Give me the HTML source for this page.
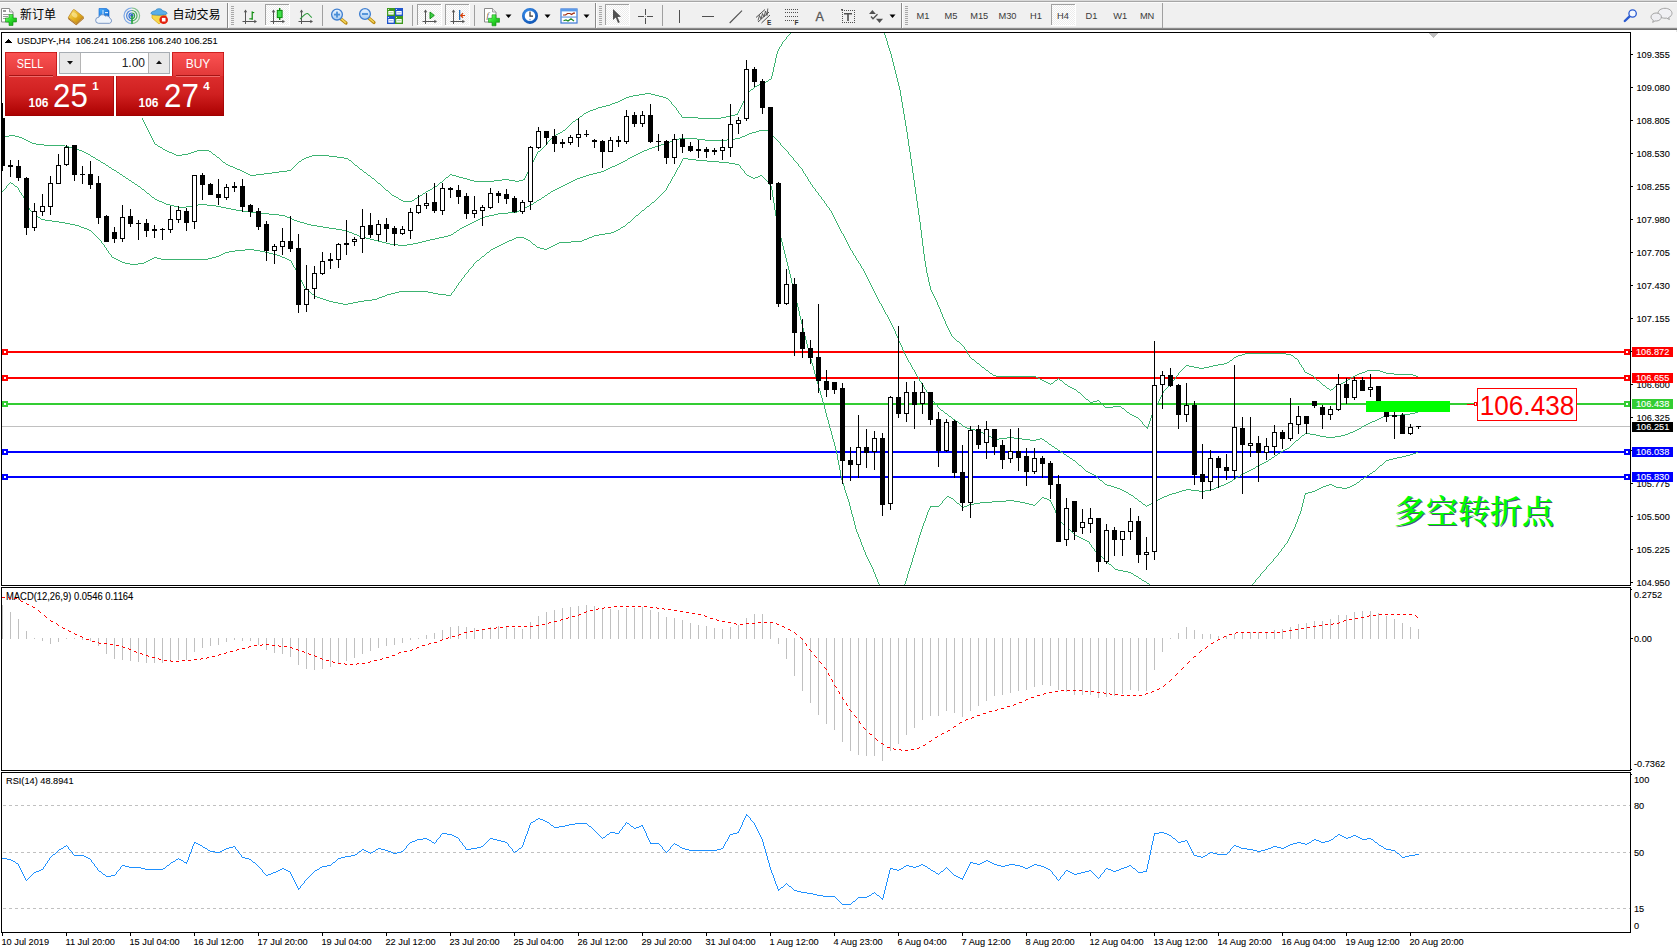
<!DOCTYPE html>
<html lang="zh"><head><meta charset="utf-8"><title>USDJPY H4</title>
<style>
html,body{margin:0;padding:0;background:#fff}
body{width:1677px;height:950px;overflow:hidden;position:relative;font-family:"Liberation Sans", "Noto Sans CJK SC", sans-serif;}
.abs{position:absolute}
</style></head><body>
<svg width="1677" height="950" viewBox="0 0 1677 950" shape-rendering="crispEdges" font-family='"Liberation Sans", "Noto Sans CJK SC", sans-serif' style="position:absolute;left:0;top:0"><rect x="1" y="32" width="1630" height="1" fill="#000"/>
<rect x="1" y="32" width="1" height="901" fill="#000"/>
<rect x="1630" y="32" width="1" height="901" fill="#000"/>
<rect x="1" y="585" width="1630" height="1" fill="#000"/>
<rect x="1" y="587" width="1630" height="1" fill="#000"/>
<rect x="1" y="770" width="1630" height="1" fill="#000"/>
<rect x="1" y="772" width="1630" height="1" fill="#000"/>
<rect x="1" y="932" width="1630" height="1" fill="#000"/>
<rect x="0" y="586" width="1631" height="1" fill="#fff"/>
<rect x="0" y="771" width="1631" height="1" fill="#fff"/>
<defs><clipPath id="cm"><rect x="2" y="33" width="1628" height="552"/></clipPath></defs>
<g clip-path="url(#cm)">
<rect x="2" y="426" width="1628" height="1" fill="#c0c0c0"/>
<rect x="2" y="351" width="1628" height="2" fill="#ff0000"/>
<rect x="2" y="377" width="1628" height="2" fill="#ff0000"/>
<rect x="2" y="403" width="1628" height="2" fill="#32cd32"/>
<rect x="2" y="451" width="1628" height="2" fill="#0000ff"/>
<rect x="2" y="476" width="1628" height="2" fill="#0000ff"/>
<path fill="#3cb371" d="M790 33h1v1h-1zM789 34h1v1h-1zM788 35h1v1h-1zM787 36h1v1h-1zM786 37h1v2h-1zM785 39h1v1h-1zM784 40h1v1h-1zM783 41h1v1h-1zM782 42h1v2h-1zM781 44h1v2h-1zM780 46h1v1h-1zM779 47h1v2h-1zM778 49h1v2h-1zM777 51h1v3h-1zM776 54h1v4h-1zM775 58h1v5h-1zM774 63h1v4h-1zM773 67h1v5h-1zM772 72h1v4h-1zM771 76h1v3h-1zM769 79h2v1h-2zM768 80h1v1h-1zM766 81h2v1h-2zM764 82h2v1h-2zM762 83h2v1h-2zM759 84h3v1h-3zM757 85h2v1h-2zM755 86h2v1h-2zM754 87h1v1h-1zM753 88h1v1h-1zM751 89h2v1h-2zM750 90h1v1h-1zM749 91h1v1h-1zM748 92h1v1h-1zM645 93h6v1h-6zM747 93h1v2h-1zM639 94h6v1h-6zM651 94h4v1h-4zM633 95h6v1h-6zM655 95h4v1h-4zM746 95h1v2h-1zM629 96h4v1h-4zM659 96h4v1h-4zM626 97h3v1h-3zM663 97h3v1h-3zM745 97h1v2h-1zM624 98h2v1h-2zM666 98h2v1h-2zM622 99h2v1h-2zM668 99h1v1h-1zM744 99h1v2h-1zM620 100h2v1h-2zM669 100h1v1h-1zM618 101h2v1h-2zM670 101h1v1h-1zM743 101h1v2h-1zM615 102h3v1h-3zM671 102h1v2h-1zM612 103h3v1h-3zM742 103h1v2h-1zM610 104h2v1h-2zM672 104h1v1h-1zM606 105h4v1h-4zM673 105h1v1h-1zM741 105h1v2h-1zM602 106h4v1h-4zM674 106h1v1h-1zM598 107h4v1h-4zM675 107h1v1h-1zM740 107h1v2h-1zM596 108h2v1h-2zM676 108h1v2h-1zM593 109h3v1h-3zM739 109h1v2h-1zM590 110h3v1h-3zM677 110h1v1h-1zM588 111h2v1h-2zM678 111h1v2h-1zM738 111h1v2h-1zM586 112h2v1h-2zM584 113h2v1h-2zM679 113h1v1h-1zM737 113h1v2h-1zM583 114h1v1h-1zM680 114h1v1h-1zM735 114h2v1h-2zM582 115h1v1h-1zM681 115h1v2h-1zM731 115h4v1h-4zM580 116h2v1h-2zM726 116h5v1h-5zM579 117h1v1h-1zM682 117h16v1h-16zM721 117h5v1h-5zM142 118h1v2h-1zM578 118h1v1h-1zM698 118h23v1h-23zM576 119h2v1h-2zM143 120h1v2h-1zM575 120h1v1h-1zM573 121h2v1h-2zM144 122h1v2h-1zM572 122h1v1h-1zM571 123h1v1h-1zM145 124h1v2h-1zM570 124h1v1h-1zM569 125h1v1h-1zM146 126h1v2h-1zM568 126h1v1h-1zM567 127h1v1h-1zM147 128h1v2h-1zM566 128h1v1h-1zM565 129h1v1h-1zM148 130h1v2h-1zM563 130h2v1h-2zM562 131h1v1h-1zM149 132h1v2h-1zM560 132h2v1h-2zM558 133h2v1h-2zM150 134h1v2h-1zM556 134h2v1h-2zM554 135h2v1h-2zM151 136h1v2h-1zM553 136h1v1h-1zM552 137h1v1h-1zM152 138h1v2h-1zM551 138h1v1h-1zM550 139h1v1h-1zM153 140h1v2h-1zM549 140h1v1h-1zM548 141h1v1h-1zM154 142h1v2h-1zM547 142h1v2h-1zM155 144h2v1h-2zM546 144h1v1h-1zM157 145h1v1h-1zM545 145h1v1h-1zM158 146h2v1h-2zM544 146h1v1h-1zM160 147h2v1h-2zM543 147h1v1h-1zM162 148h1v1h-1zM542 148h1v1h-1zM163 149h2v1h-2zM541 149h1v1h-1zM165 150h2v1h-2zM197 150h12v1h-12zM540 150h1v1h-1zM167 151h2v1h-2zM194 151h3v1h-3zM209 151h2v1h-2zM538 151h2v1h-2zM169 152h3v1h-3zM191 152h3v1h-3zM211 152h1v1h-1zM537 152h1v2h-1zM172 153h2v1h-2zM188 153h3v1h-3zM212 153h1v1h-1zM174 154h2v1h-2zM182 154h6v1h-6zM213 154h2v1h-2zM536 154h1v2h-1zM176 155h6v1h-6zM215 155h1v1h-1zM312 155h17v1h-17zM216 156h1v1h-1zM309 156h3v1h-3zM329 156h8v1h-8zM535 156h1v2h-1zM217 157h2v1h-2zM306 157h3v1h-3zM337 157h7v1h-7zM219 158h1v1h-1zM304 158h2v1h-2zM344 158h4v1h-4zM534 158h1v2h-1zM220 159h1v1h-1zM302 159h2v1h-2zM348 159h1v1h-1zM221 160h1v1h-1zM301 160h1v1h-1zM349 160h2v1h-2zM533 160h1v2h-1zM222 161h1v1h-1zM299 161h2v1h-2zM351 161h1v1h-1zM223 162h2v1h-2zM298 162h1v1h-1zM352 162h1v1h-1zM532 162h1v2h-1zM225 163h1v1h-1zM297 163h1v1h-1zM353 163h1v1h-1zM226 164h2v1h-2zM296 164h1v1h-1zM354 164h1v1h-1zM531 164h1v2h-1zM228 165h2v1h-2zM295 165h1v1h-1zM355 165h2v1h-2zM230 166h3v1h-3zM294 166h1v1h-1zM357 166h1v1h-1zM530 166h1v2h-1zM233 167h2v1h-2zM293 167h1v1h-1zM358 167h1v1h-1zM235 168h2v1h-2zM292 168h1v1h-1zM359 168h1v1h-1zM529 168h1v2h-1zM237 169h3v1h-3zM291 169h1v1h-1zM360 169h2v1h-2zM240 170h2v1h-2zM287 170h4v1h-4zM362 170h1v1h-1zM528 170h1v2h-1zM242 171h2v1h-2zM279 171h8v1h-8zM363 171h1v1h-1zM244 172h2v1h-2zM272 172h7v1h-7zM364 172h2v1h-2zM527 172h1v2h-1zM246 173h2v1h-2zM264 173h8v1h-8zM366 173h1v1h-1zM248 174h2v1h-2zM256 174h8v1h-8zM367 174h1v1h-1zM450 174h2v1h-2zM526 174h1v2h-1zM250 175h6v1h-6zM368 175h2v1h-2zM449 175h1v1h-1zM452 175h4v1h-4zM370 176h1v1h-1zM448 176h1v1h-1zM456 176h3v1h-3zM525 176h1v2h-1zM371 177h1v1h-1zM446 177h2v1h-2zM459 177h4v1h-4zM372 178h2v1h-2zM445 178h1v1h-1zM463 178h4v1h-4zM524 178h1v2h-1zM374 179h1v1h-1zM444 179h1v1h-1zM467 179h3v1h-3zM502 179h7v1h-7zM523 179h1v1h-1zM375 180h1v1h-1zM443 180h1v1h-1zM470 180h4v1h-4zM494 180h8v1h-8zM509 180h6v1h-6zM519 180h4v1h-4zM376 181h1v1h-1zM442 181h1v1h-1zM474 181h20v1h-20zM515 181h4v1h-4zM377 182h1v1h-1zM440 182h2v1h-2zM378 183h2v1h-2zM439 183h1v1h-1zM380 184h1v1h-1zM438 184h1v1h-1zM381 185h1v1h-1zM437 185h1v1h-1zM382 186h1v1h-1zM435 186h2v1h-2zM383 187h1v1h-1zM433 187h2v1h-2zM384 188h1v1h-1zM432 188h1v1h-1zM385 189h1v1h-1zM430 189h2v1h-2zM386 190h2v1h-2zM428 190h2v1h-2zM388 191h1v1h-1zM426 191h2v1h-2zM389 192h1v1h-1zM425 192h1v1h-1zM390 193h1v1h-1zM423 193h2v1h-2zM391 194h1v1h-1zM422 194h1v1h-1zM392 195h2v1h-2zM420 195h2v1h-2zM394 196h2v1h-2zM419 196h1v1h-1zM396 197h2v1h-2zM417 197h2v1h-2zM398 198h1v1h-1zM415 198h2v1h-2zM399 199h2v1h-2zM414 199h1v1h-1zM401 200h2v1h-2zM412 200h2v1h-2zM403 201h9v1h-9zM884 33h1v2h-1zM885 35h1v3h-1zM886 38h1v3h-1zM887 41h1v4h-1zM888 45h1v3h-1zM889 48h1v3h-1zM890 51h1v3h-1zM891 54h1v4h-1zM892 58h1v4h-1zM893 62h1v4h-1zM894 66h1v4h-1zM895 70h1v4h-1zM896 74h1v4h-1zM897 78h1v4h-1zM898 82h1v4h-1zM899 86h1v4h-1zM900 90h1v6h-1zM901 96h1v6h-1zM902 102h1v6h-1zM903 108h1v6h-1zM904 114h1v6h-1zM905 120h1v6h-1zM906 126h1v6h-1zM907 132h1v7h-1zM908 139h1v7h-1zM909 146h1v6h-1zM910 152h1v7h-1zM911 159h1v7h-1zM912 166h1v7h-1zM913 173h1v7h-1zM914 180h1v7h-1zM915 187h1v7h-1zM916 194h1v7h-1zM917 201h1v7h-1zM918 208h1v7h-1zM919 215h1v7h-1zM920 222h1v8h-1zM921 230h1v8h-1zM922 238h1v8h-1zM923 246h1v8h-1zM924 254h1v7h-1zM925 261h1v6h-1zM926 267h1v6h-1zM927 273h1v4h-1zM928 277h1v5h-1zM929 282h1v4h-1zM930 286h1v4h-1zM931 290h1v2h-1zM932 292h1v2h-1zM933 294h1v2h-1zM934 296h1v2h-1zM935 298h1v2h-1zM936 300h1v2h-1zM937 302h1v3h-1zM938 305h1v2h-1zM939 307h1v2h-1zM940 309h1v3h-1zM941 312h1v2h-1zM942 314h1v3h-1zM943 317h1v2h-1zM944 319h1v2h-1zM945 321h1v3h-1zM946 324h1v2h-1zM947 326h1v2h-1zM948 328h1v2h-1zM949 330h1v2h-1zM950 332h1v2h-1zM951 334h1v2h-1zM952 336h1v1h-1zM953 337h1v1h-1zM954 338h1v1h-1zM955 339h1v1h-1zM956 340h1v1h-1zM957 341h2v1h-2zM959 342h1v1h-1zM960 343h1v1h-1zM961 344h1v1h-1zM962 345h1v1h-1zM963 346h1v1h-1zM964 347h1v2h-1zM965 349h1v1h-1zM966 350h1v2h-1zM967 352h1v2h-1zM1245 353h41v1h-41zM968 354h1v1h-1zM1242 354h3v1h-3zM1286 354h5v1h-5zM969 355h1v2h-1zM1238 355h4v1h-4zM1291 355h2v1h-2zM1236 356h2v1h-2zM1293 356h1v1h-1zM970 357h1v1h-1zM1234 357h2v1h-2zM1294 357h1v1h-1zM971 358h1v1h-1zM1233 358h1v1h-1zM1295 358h2v1h-2zM972 359h2v1h-2zM1232 359h1v1h-1zM1297 359h1v1h-1zM974 360h1v1h-1zM1230 360h2v1h-2zM1298 360h1v2h-1zM975 361h1v1h-1zM1229 361h1v1h-1zM976 362h1v1h-1zM1227 362h2v1h-2zM1299 362h1v2h-1zM977 363h2v1h-2zM1224 363h3v1h-3zM979 364h1v1h-1zM1218 364h6v1h-6zM1300 364h1v1h-1zM980 365h1v1h-1zM1186 365h3v1h-3zM1213 365h5v1h-5zM1301 365h1v2h-1zM981 366h1v1h-1zM1185 366h1v1h-1zM1189 366h5v1h-5zM1209 366h4v1h-4zM982 367h2v1h-2zM1184 367h1v1h-1zM1194 367h5v1h-5zM1204 367h5v1h-5zM1302 367h1v1h-1zM984 368h1v1h-1zM1183 368h1v1h-1zM1199 368h5v1h-5zM1303 368h1v2h-1zM985 369h1v1h-1zM1182 369h1v1h-1zM986 370h2v1h-2zM1181 370h1v1h-1zM1304 370h1v2h-1zM1367 370h13v1h-13zM988 371h1v1h-1zM1180 371h1v1h-1zM1365 371h2v1h-2zM1380 371h3v1h-3zM989 372h1v1h-1zM1179 372h1v1h-1zM1305 372h2v1h-2zM1362 372h3v1h-3zM1383 372h3v1h-3zM990 373h2v1h-2zM1178 373h1v2h-1zM1307 373h2v1h-2zM1359 373h3v1h-3zM1386 373h8v1h-8zM992 374h1v1h-1zM1309 374h2v1h-2zM1357 374h2v1h-2zM1394 374h19v1h-19zM993 375h3v1h-3zM1177 375h1v1h-1zM1311 375h2v1h-2zM1355 375h2v1h-2zM1413 375h3v1h-3zM996 376h40v1h-40zM1176 376h1v1h-1zM1313 376h1v1h-1zM1353 376h2v1h-2zM1416 376h2v1h-2zM1036 377h2v1h-2zM1175 377h1v2h-1zM1314 377h1v1h-1zM1351 377h2v1h-2zM1038 378h2v1h-2zM1058 378h1v1h-1zM1315 378h1v1h-1zM1350 378h1v1h-1zM1040 379h2v1h-2zM1057 379h1v1h-1zM1059 379h1v1h-1zM1174 379h1v1h-1zM1316 379h1v1h-1zM1348 379h2v1h-2zM1042 380h2v1h-2zM1055 380h2v1h-2zM1060 380h2v1h-2zM1173 380h1v1h-1zM1317 380h2v1h-2zM1346 380h2v1h-2zM1044 381h2v1h-2zM1054 381h1v1h-1zM1062 381h1v1h-1zM1172 381h1v1h-1zM1319 381h1v1h-1zM1345 381h1v1h-1zM1046 382h2v1h-2zM1053 382h1v1h-1zM1063 382h1v1h-1zM1171 382h1v1h-1zM1320 382h1v1h-1zM1343 382h2v1h-2zM1048 383h2v1h-2zM1051 383h2v1h-2zM1064 383h1v1h-1zM1170 383h1v1h-1zM1321 383h1v1h-1zM1341 383h2v1h-2zM1050 384h1v1h-1zM1065 384h2v1h-2zM1169 384h1v1h-1zM1322 384h1v1h-1zM1339 384h2v1h-2zM1067 385h1v1h-1zM1168 385h1v2h-1zM1323 385h2v1h-2zM1337 385h2v1h-2zM1068 386h2v1h-2zM1325 386h1v1h-1zM1335 386h2v1h-2zM1070 387h2v1h-2zM1167 387h1v1h-1zM1326 387h1v1h-1zM1334 387h1v1h-1zM1072 388h2v1h-2zM1166 388h1v1h-1zM1327 388h2v1h-2zM1333 388h1v1h-1zM1074 389h2v1h-2zM1165 389h1v1h-1zM1329 389h1v1h-1zM1331 389h2v1h-2zM1076 390h1v1h-1zM1164 390h1v1h-1zM1330 390h1v1h-1zM1077 391h1v1h-1zM1163 391h1v2h-1zM1078 392h2v1h-2zM1080 393h1v1h-1zM1162 393h1v2h-1zM1081 394h1v1h-1zM1082 395h1v1h-1zM1161 395h1v2h-1zM1083 396h1v1h-1zM1084 397h1v1h-1zM1160 397h1v2h-1zM1085 398h1v1h-1zM1086 399h2v1h-2zM1159 399h1v2h-1zM1088 400h1v1h-1zM1097 400h2v1h-2zM1089 401h1v1h-1zM1093 401h4v1h-4zM1099 401h1v1h-1zM1158 401h1v2h-1zM1090 402h3v1h-3zM1100 402h1v1h-1zM1101 403h1v1h-1zM1157 403h1v2h-1zM1102 404h1v1h-1zM1103 405h1v1h-1zM1156 405h1v2h-1zM1104 406h1v1h-1zM1113 406h8v1h-8zM1105 407h8v1h-8zM1121 407h1v1h-1zM1155 407h1v2h-1zM1122 408h2v1h-2zM1124 409h1v1h-1zM1154 409h1v2h-1zM1125 410h1v1h-1zM1126 411h1v1h-1zM1153 411h1v2h-1zM1127 412h2v1h-2zM1129 413h1v1h-1zM1152 413h1v2h-1zM1130 414h2v1h-2zM1132 415h2v1h-2zM1151 415h1v3h-1zM1134 416h2v1h-2zM1136 417h2v1h-2zM1138 418h1v1h-1zM1150 418h1v3h-1zM1139 419h1v1h-1zM1140 420h1v1h-1zM1141 421h1v1h-1zM1149 421h1v3h-1zM1142 422h1v2h-1zM1143 424h1v1h-1zM1148 424h1v3h-1zM1144 425h1v1h-1zM1145 426h1v1h-1zM1146 427h2v1h-2zM1147 428h1v1h-1zM759 130h10v1h-10zM756 131h3v1h-3zM769 131h1v1h-1zM752 132h4v1h-4zM770 132h1v1h-1zM749 133h3v1h-3zM771 133h1v2h-1zM747 134h2v1h-2zM9 135h6v1h-6zM745 135h2v1h-2zM772 135h1v1h-1zM5 136h4v1h-4zM15 136h4v1h-4zM742 136h3v1h-3zM773 136h1v1h-1zM19 137h3v1h-3zM740 137h2v1h-2zM774 137h1v1h-1zM22 138h2v1h-2zM679 138h18v1h-18zM735 138h5v1h-5zM775 138h1v1h-1zM24 139h2v1h-2zM676 139h3v1h-3zM697 139h8v1h-8zM727 139h8v1h-8zM776 139h1v1h-1zM26 140h2v1h-2zM673 140h3v1h-3zM705 140h22v1h-22zM777 140h1v1h-1zM28 141h2v1h-2zM670 141h3v1h-3zM778 141h1v1h-1zM30 142h2v1h-2zM667 142h3v1h-3zM779 142h1v1h-1zM32 143h4v1h-4zM664 143h3v1h-3zM780 143h1v2h-1zM36 144h8v1h-8zM661 144h3v1h-3zM44 145h21v1h-21zM658 145h3v1h-3zM781 145h1v1h-1zM65 146h4v1h-4zM655 146h3v1h-3zM782 146h1v1h-1zM69 147h3v1h-3zM652 147h3v1h-3zM783 147h1v1h-1zM72 148h3v1h-3zM649 148h3v1h-3zM784 148h1v1h-1zM75 149h4v1h-4zM647 149h2v1h-2zM785 149h1v1h-1zM79 150h3v1h-3zM644 150h3v1h-3zM786 150h1v1h-1zM82 151h2v1h-2zM642 151h2v1h-2zM787 151h1v1h-1zM84 152h2v1h-2zM640 152h2v1h-2zM788 152h1v2h-1zM86 153h2v1h-2zM638 153h2v1h-2zM88 154h2v1h-2zM636 154h2v1h-2zM789 154h1v1h-1zM90 155h1v1h-1zM634 155h2v1h-2zM790 155h1v1h-1zM91 156h2v1h-2zM632 156h2v1h-2zM791 156h1v1h-1zM93 157h2v1h-2zM630 157h2v1h-2zM792 157h1v1h-1zM95 158h1v1h-1zM628 158h2v1h-2zM793 158h1v2h-1zM96 159h2v1h-2zM627 159h1v1h-1zM98 160h2v1h-2zM625 160h2v1h-2zM794 160h1v1h-1zM100 161h1v1h-1zM623 161h2v1h-2zM795 161h1v1h-1zM101 162h2v1h-2zM621 162h2v1h-2zM796 162h1v1h-1zM103 163h2v1h-2zM619 163h2v1h-2zM797 163h1v1h-1zM105 164h1v1h-1zM617 164h2v1h-2zM798 164h1v2h-1zM106 165h2v1h-2zM615 165h2v1h-2zM108 166h1v1h-1zM612 166h3v1h-3zM799 166h1v1h-1zM109 167h2v1h-2zM610 167h2v1h-2zM800 167h1v1h-1zM111 168h1v1h-1zM608 168h2v1h-2zM801 168h1v1h-1zM112 169h2v1h-2zM606 169h2v1h-2zM802 169h1v2h-1zM114 170h2v1h-2zM604 170h2v1h-2zM116 171h1v1h-1zM601 171h3v1h-3zM803 171h1v2h-1zM117 172h2v1h-2zM597 172h4v1h-4zM119 173h1v1h-1zM593 173h4v1h-4zM804 173h1v1h-1zM120 174h2v1h-2zM589 174h4v1h-4zM805 174h1v2h-1zM122 175h1v1h-1zM586 175h3v1h-3zM123 176h2v1h-2zM583 176h3v1h-3zM806 176h1v1h-1zM125 177h1v1h-1zM580 177h3v1h-3zM807 177h1v2h-1zM126 178h2v1h-2zM577 178h3v1h-3zM128 179h1v1h-1zM575 179h2v1h-2zM808 179h1v2h-1zM129 180h2v1h-2zM573 180h2v1h-2zM131 181h1v1h-1zM571 181h2v1h-2zM809 181h1v1h-1zM132 182h2v1h-2zM569 182h2v1h-2zM810 182h1v2h-1zM134 183h1v1h-1zM567 183h2v1h-2zM135 184h2v1h-2zM565 184h2v1h-2zM811 184h1v1h-1zM137 185h1v1h-1zM563 185h2v1h-2zM812 185h1v2h-1zM138 186h2v1h-2zM561 186h2v1h-2zM140 187h1v1h-1zM559 187h2v1h-2zM813 187h1v1h-1zM141 188h1v1h-1zM557 188h2v1h-2zM814 188h1v1h-1zM142 189h2v1h-2zM555 189h2v1h-2zM815 189h1v2h-1zM144 190h1v1h-1zM553 190h2v1h-2zM145 191h1v1h-1zM551 191h2v1h-2zM816 191h1v1h-1zM146 192h1v1h-1zM550 192h1v1h-1zM817 192h1v1h-1zM147 193h2v1h-2zM548 193h2v1h-2zM818 193h1v2h-1zM149 194h1v1h-1zM547 194h1v1h-1zM150 195h1v1h-1zM545 195h2v1h-2zM819 195h1v1h-1zM151 196h1v1h-1zM544 196h1v1h-1zM820 196h1v1h-1zM152 197h2v1h-2zM542 197h2v1h-2zM821 197h1v2h-1zM154 198h1v1h-1zM541 198h1v1h-1zM155 199h2v1h-2zM539 199h2v1h-2zM822 199h1v1h-1zM157 200h2v1h-2zM537 200h2v1h-2zM823 200h1v1h-1zM159 201h3v1h-3zM536 201h1v1h-1zM824 201h1v2h-1zM162 202h2v1h-2zM534 202h2v1h-2zM164 203h2v1h-2zM533 203h1v1h-1zM825 203h1v1h-1zM166 204h4v1h-4zM198 204h9v1h-9zM531 204h2v1h-2zM826 204h1v2h-1zM170 205h4v1h-4zM193 205h5v1h-5zM207 205h9v1h-9zM529 205h2v1h-2zM174 206h4v1h-4zM186 206h7v1h-7zM216 206h5v1h-5zM527 206h2v1h-2zM827 206h1v1h-1zM178 207h8v1h-8zM221 207h5v1h-5zM525 207h2v1h-2zM828 207h1v1h-1zM226 208h5v1h-5zM523 208h2v1h-2zM829 208h1v2h-1zM231 209h5v1h-5zM521 209h2v1h-2zM236 210h7v1h-7zM519 210h2v1h-2zM830 210h1v1h-1zM243 211h8v1h-8zM517 211h2v1h-2zM831 211h1v2h-1zM251 212h8v1h-8zM508 212h9v1h-9zM259 213h10v1h-10zM498 213h10v1h-10zM832 213h1v2h-1zM269 214h10v1h-10zM494 214h4v1h-4zM279 215h6v1h-6zM489 215h5v1h-5zM833 215h1v2h-1zM285 216h2v1h-2zM485 216h4v1h-4zM287 217h3v1h-3zM482 217h3v1h-3zM834 217h1v2h-1zM290 218h2v1h-2zM480 218h2v1h-2zM292 219h2v1h-2zM478 219h2v1h-2zM835 219h1v2h-1zM294 220h3v1h-3zM476 220h2v1h-2zM297 221h3v1h-3zM474 221h2v1h-2zM836 221h1v2h-1zM300 222h4v1h-4zM472 222h2v1h-2zM304 223h3v1h-3zM470 223h2v1h-2zM837 223h1v2h-1zM307 224h4v1h-4zM468 224h2v1h-2zM311 225h6v1h-6zM466 225h2v1h-2zM838 225h1v2h-1zM317 226h6v1h-6zM464 226h2v1h-2zM323 227h6v1h-6zM462 227h2v1h-2zM839 227h1v2h-1zM329 228h7v1h-7zM460 228h2v1h-2zM336 229h6v1h-6zM459 229h1v1h-1zM840 229h1v2h-1zM342 230h5v1h-5zM457 230h2v1h-2zM347 231h2v1h-2zM456 231h1v1h-1zM841 231h1v2h-1zM349 232h3v1h-3zM454 232h2v1h-2zM352 233h2v1h-2zM453 233h1v1h-1zM842 233h1v1h-1zM354 234h3v1h-3zM451 234h2v1h-2zM843 234h1v2h-1zM357 235h2v1h-2zM448 235h3v1h-3zM359 236h3v1h-3zM444 236h4v1h-4zM844 236h1v2h-1zM362 237h4v1h-4zM439 237h5v1h-5zM366 238h4v1h-4zM435 238h4v1h-4zM845 238h1v2h-1zM370 239h4v1h-4zM430 239h5v1h-5zM374 240h4v1h-4zM426 240h4v1h-4zM846 240h1v2h-1zM378 241h4v1h-4zM422 241h4v1h-4zM382 242h4v1h-4zM418 242h4v1h-4zM847 242h1v2h-1zM386 243h4v1h-4zM413 243h5v1h-5zM390 244h8v1h-8zM407 244h6v1h-6zM848 244h1v2h-1zM398 245h9v1h-9zM849 246h1v2h-1zM850 248h1v2h-1zM851 250h1v1h-1zM852 251h1v2h-1zM853 253h1v2h-1zM854 255h1v1h-1zM855 256h1v2h-1zM856 258h1v2h-1zM857 260h1v1h-1zM858 261h1v2h-1zM859 263h1v1h-1zM860 264h1v2h-1zM861 266h1v2h-1zM862 268h1v1h-1zM863 269h1v2h-1zM864 271h1v2h-1zM865 273h1v2h-1zM866 275h1v2h-1zM867 277h1v2h-1zM868 279h1v2h-1zM869 281h1v2h-1zM870 283h1v2h-1zM871 285h1v2h-1zM872 287h1v2h-1zM873 289h1v2h-1zM874 291h1v2h-1zM875 293h1v2h-1zM876 295h1v2h-1zM877 297h1v2h-1zM878 299h1v2h-1zM879 301h1v2h-1zM880 303h1v1h-1zM881 304h1v2h-1zM882 306h1v2h-1zM883 308h1v2h-1zM884 310h1v2h-1zM885 312h1v2h-1zM886 314h1v1h-1zM887 315h1v2h-1zM888 317h1v2h-1zM889 319h1v2h-1zM890 321h1v2h-1zM891 323h1v2h-1zM892 325h1v2h-1zM893 327h1v2h-1zM894 329h1v2h-1zM895 331h1v3h-1zM896 334h1v2h-1zM897 336h1v2h-1zM898 338h1v3h-1zM899 341h1v2h-1zM900 343h1v2h-1zM901 345h1v2h-1zM902 347h1v3h-1zM903 350h1v2h-1zM904 352h1v2h-1zM905 354h1v2h-1zM906 356h1v2h-1zM907 358h1v2h-1zM908 360h1v2h-1zM909 362h1v1h-1zM910 363h1v2h-1zM911 365h1v2h-1zM912 367h1v2h-1zM913 369h1v1h-1zM914 370h1v2h-1zM915 372h1v2h-1zM916 374h1v2h-1zM917 376h1v1h-1zM918 377h1v2h-1zM919 379h1v2h-1zM920 381h1v1h-1zM921 382h1v2h-1zM922 384h1v1h-1zM923 385h1v2h-1zM924 387h1v2h-1zM925 389h1v1h-1zM926 390h1v2h-1zM927 392h1v1h-1zM928 393h1v2h-1zM929 395h1v2h-1zM930 397h1v1h-1zM931 398h1v1h-1zM932 399h1v2h-1zM933 401h1v1h-1zM934 402h1v1h-1zM935 403h1v1h-1zM936 404h1v1h-1zM937 405h1v2h-1zM938 407h1v1h-1zM939 408h1v1h-1zM940 409h1v1h-1zM941 410h2v1h-2zM943 411h1v1h-1zM944 412h1v1h-1zM1415 412h3v1h-3zM945 413h2v1h-2zM1410 413h5v1h-5zM947 414h1v1h-1zM1401 414h9v1h-9zM948 415h1v1h-1zM1389 415h12v1h-12zM949 416h2v1h-2zM1383 416h6v1h-6zM951 417h1v1h-1zM1381 417h2v1h-2zM952 418h1v1h-1zM1379 418h2v1h-2zM953 419h2v1h-2zM1377 419h2v1h-2zM955 420h1v1h-1zM1375 420h2v1h-2zM956 421h2v1h-2zM1372 421h3v1h-3zM958 422h1v1h-1zM1370 422h2v1h-2zM959 423h2v1h-2zM1368 423h2v1h-2zM961 424h1v1h-1zM1366 424h2v1h-2zM962 425h1v1h-1zM1364 425h2v1h-2zM963 426h2v1h-2zM1362 426h2v1h-2zM965 427h2v1h-2zM1361 427h1v1h-1zM967 428h4v1h-4zM1359 428h2v1h-2zM971 429h4v1h-4zM1357 429h2v1h-2zM975 430h4v1h-4zM1355 430h2v1h-2zM979 431h2v1h-2zM1353 431h2v1h-2zM981 432h2v1h-2zM1350 432h3v1h-3zM983 433h2v1h-2zM1305 433h5v1h-5zM1348 433h2v1h-2zM985 434h2v1h-2zM1304 434h1v1h-1zM1310 434h6v1h-6zM1345 434h3v1h-3zM987 435h2v1h-2zM1302 435h2v1h-2zM1316 435h4v1h-4zM1341 435h4v1h-4zM989 436h2v1h-2zM1301 436h1v1h-1zM1320 436h6v1h-6zM1335 436h6v1h-6zM991 437h2v1h-2zM1007 437h7v1h-7zM1300 437h1v1h-1zM1326 437h9v1h-9zM993 438h2v1h-2zM999 438h8v1h-8zM1014 438h8v1h-8zM1040 438h2v1h-2zM1299 438h1v1h-1zM995 439h4v1h-4zM1022 439h8v1h-8zM1036 439h4v1h-4zM1042 439h2v1h-2zM1298 439h1v1h-1zM1030 440h6v1h-6zM1044 440h1v1h-1zM1296 440h2v1h-2zM1045 441h2v1h-2zM1295 441h1v1h-1zM1047 442h1v1h-1zM1294 442h1v1h-1zM1048 443h1v1h-1zM1293 443h1v1h-1zM1049 444h2v1h-2zM1292 444h1v1h-1zM1051 445h1v1h-1zM1291 445h1v1h-1zM1052 446h2v1h-2zM1290 446h1v1h-1zM1054 447h1v1h-1zM1289 447h1v1h-1zM1055 448h2v1h-2zM1287 448h2v1h-2zM1057 449h1v1h-1zM1285 449h2v1h-2zM1058 450h2v1h-2zM1283 450h2v1h-2zM1060 451h1v1h-1zM1281 451h2v1h-2zM1061 452h2v1h-2zM1280 452h1v1h-1zM1063 453h1v1h-1zM1278 453h2v1h-2zM1064 454h2v1h-2zM1277 454h1v1h-1zM1066 455h1v1h-1zM1275 455h2v1h-2zM1067 456h2v1h-2zM1274 456h1v1h-1zM1069 457h1v1h-1zM1272 457h2v1h-2zM1070 458h2v1h-2zM1271 458h1v1h-1zM1072 459h1v1h-1zM1269 459h2v1h-2zM1073 460h2v1h-2zM1268 460h1v1h-1zM1075 461h1v1h-1zM1266 461h2v1h-2zM1076 462h1v1h-1zM1264 462h2v1h-2zM1077 463h1v1h-1zM1262 463h2v1h-2zM1078 464h1v1h-1zM1260 464h2v1h-2zM1079 465h2v1h-2zM1258 465h2v1h-2zM1081 466h1v1h-1zM1256 466h2v1h-2zM1082 467h1v1h-1zM1255 467h1v1h-1zM1083 468h1v1h-1zM1253 468h2v1h-2zM1084 469h1v1h-1zM1251 469h2v1h-2zM1085 470h1v1h-1zM1249 470h2v1h-2zM1086 471h2v1h-2zM1247 471h2v1h-2zM1088 472h2v1h-2zM1245 472h2v1h-2zM1090 473h2v1h-2zM1243 473h2v1h-2zM1092 474h2v1h-2zM1241 474h2v1h-2zM1094 475h2v1h-2zM1240 475h1v1h-1zM1096 476h1v1h-1zM1238 476h2v1h-2zM1097 477h1v1h-1zM1236 477h2v1h-2zM1098 478h1v1h-1zM1235 478h1v1h-1zM1099 479h1v1h-1zM1233 479h2v1h-2zM1100 480h2v1h-2zM1232 480h1v1h-1zM1102 481h1v1h-1zM1230 481h2v1h-2zM1103 482h1v1h-1zM1228 482h2v1h-2zM1104 483h1v1h-1zM1226 483h2v1h-2zM1105 484h2v1h-2zM1224 484h2v1h-2zM1107 485h4v1h-4zM1221 485h3v1h-3zM1111 486h3v1h-3zM1219 486h2v1h-2zM1114 487h3v1h-3zM1216 487h3v1h-3zM1117 488h3v1h-3zM1214 488h2v1h-2zM1120 489h2v1h-2zM1186 489h5v1h-5zM1210 489h4v1h-4zM1122 490h2v1h-2zM1182 490h4v1h-4zM1191 490h8v1h-8zM1205 490h5v1h-5zM1124 491h2v1h-2zM1179 491h3v1h-3zM1199 491h6v1h-6zM1126 492h2v1h-2zM1176 492h3v1h-3zM1128 493h1v1h-1zM1172 493h4v1h-4zM1129 494h2v1h-2zM1169 494h3v1h-3zM1131 495h2v1h-2zM1167 495h2v1h-2zM1133 496h1v1h-1zM1164 496h3v1h-3zM1134 497h1v1h-1zM1162 497h2v1h-2zM1135 498h2v1h-2zM1160 498h2v1h-2zM1137 499h1v1h-1zM1158 499h2v1h-2zM1138 500h1v1h-1zM1156 500h2v1h-2zM1139 501h2v1h-2zM1154 501h2v1h-2zM1141 502h1v1h-1zM1152 502h2v1h-2zM1142 503h1v1h-1zM1151 503h1v1h-1zM1143 504h2v1h-2zM1149 504h2v1h-2zM1145 505h1v1h-1zM1147 505h2v1h-2zM1146 506h1v1h-1zM683 158h5v1h-5zM682 159h1v2h-1zM688 159h8v1h-8zM696 160h11v1h-11zM681 161h1v2h-1zM707 161h12v1h-12zM719 162h10v1h-10zM680 163h1v2h-1zM729 163h6v1h-6zM735 164h4v1h-4zM679 165h1v2h-1zM739 165h1v1h-1zM740 166h1v2h-1zM678 167h1v1h-1zM677 168h1v2h-1zM741 168h1v1h-1zM742 169h1v1h-1zM676 170h1v2h-1zM743 170h1v1h-1zM744 171h1v2h-1zM675 172h1v2h-1zM745 173h1v1h-1zM674 174h1v2h-1zM746 174h1v1h-1zM747 175h2v1h-2zM760 175h2v1h-2zM673 176h1v1h-1zM749 176h2v1h-2zM758 176h2v1h-2zM762 176h1v1h-1zM672 177h1v2h-1zM751 177h2v1h-2zM755 177h3v1h-3zM763 177h1v1h-1zM753 178h2v1h-2zM764 178h1v1h-1zM671 179h1v2h-1zM765 179h1v1h-1zM766 180h1v1h-1zM670 181h1v2h-1zM767 181h1v1h-1zM10 182h1v1h-1zM768 182h1v1h-1zM9 183h1v1h-1zM11 183h2v1h-2zM669 183h1v1h-1zM769 183h1v2h-1zM8 184h1v1h-1zM13 184h1v1h-1zM668 184h1v2h-1zM7 185h1v1h-1zM14 185h1v1h-1zM770 185h1v1h-1zM6 186h1v2h-1zM15 186h2v1h-2zM667 186h1v2h-1zM771 186h1v4h-1zM17 187h1v1h-1zM5 188h1v1h-1zM18 188h1v2h-1zM666 188h1v2h-1zM4 189h1v1h-1zM3 190h1v1h-1zM19 190h1v2h-1zM665 190h1v1h-1zM772 190h1v7h-1zM2 191h1v1h-1zM664 191h1v1h-1zM20 192h1v1h-1zM663 192h1v1h-1zM21 193h1v2h-1zM662 193h1v1h-1zM661 194h1v1h-1zM22 195h1v1h-1zM660 195h1v1h-1zM23 196h1v2h-1zM659 196h1v1h-1zM658 197h1v1h-1zM773 197h1v6h-1zM24 198h1v2h-1zM657 198h1v1h-1zM656 199h1v1h-1zM25 200h1v2h-1zM655 200h1v1h-1zM654 201h1v1h-1zM26 202h1v2h-1zM652 202h2v1h-2zM651 203h1v1h-1zM774 203h1v7h-1zM27 204h1v2h-1zM650 204h1v1h-1zM649 205h1v1h-1zM28 206h1v2h-1zM647 206h2v1h-2zM646 207h1v1h-1zM29 208h1v2h-1zM645 208h1v1h-1zM644 209h1v1h-1zM30 210h1v1h-1zM642 210h2v1h-2zM775 210h1v6h-1zM31 211h1v1h-1zM641 211h1v1h-1zM32 212h2v1h-2zM640 212h1v1h-1zM34 213h1v1h-1zM639 213h1v1h-1zM35 214h1v1h-1zM638 214h1v1h-1zM36 215h1v1h-1zM636 215h2v1h-2zM37 216h1v1h-1zM635 216h1v1h-1zM776 216h1v4h-1zM38 217h2v1h-2zM634 217h1v1h-1zM40 218h1v1h-1zM633 218h1v1h-1zM41 219h4v1h-4zM632 219h1v1h-1zM45 220h7v1h-7zM631 220h1v1h-1zM777 220h1v5h-1zM52 221h7v1h-7zM630 221h1v1h-1zM59 222h6v1h-6zM628 222h2v1h-2zM65 223h5v1h-5zM627 223h1v1h-1zM70 224h5v1h-5zM626 224h1v1h-1zM75 225h4v1h-4zM625 225h1v1h-1zM778 225h1v4h-1zM79 226h2v1h-2zM623 226h2v1h-2zM81 227h3v1h-3zM621 227h2v1h-2zM84 228h3v1h-3zM620 228h1v1h-1zM87 229h2v1h-2zM618 229h2v1h-2zM779 229h1v5h-1zM89 230h2v1h-2zM616 230h2v1h-2zM91 231h1v1h-1zM614 231h2v1h-2zM92 232h1v1h-1zM611 232h3v1h-3zM93 233h1v1h-1zM605 233h6v1h-6zM94 234h1v1h-1zM599 234h6v1h-6zM780 234h1v4h-1zM95 235h1v1h-1zM594 235h5v1h-5zM96 236h1v1h-1zM592 236h2v1h-2zM97 237h1v1h-1zM516 237h8v1h-8zM589 237h3v1h-3zM98 238h1v1h-1zM514 238h2v1h-2zM524 238h2v1h-2zM587 238h2v1h-2zM781 238h1v4h-1zM99 239h1v1h-1zM512 239h2v1h-2zM526 239h2v1h-2zM584 239h3v1h-3zM100 240h1v1h-1zM509 240h3v1h-3zM528 240h2v1h-2zM582 240h2v1h-2zM101 241h1v2h-1zM507 241h2v1h-2zM530 241h1v1h-1zM571 241h11v1h-11zM505 242h2v1h-2zM531 242h1v1h-1zM559 242h12v1h-12zM782 242h1v4h-1zM102 243h1v1h-1zM503 243h2v1h-2zM532 243h1v1h-1zM557 243h2v1h-2zM103 244h1v1h-1zM501 244h2v1h-2zM533 244h2v1h-2zM555 244h2v1h-2zM104 245h1v2h-1zM499 245h2v1h-2zM535 245h1v1h-1zM553 245h2v1h-2zM497 246h2v1h-2zM536 246h1v1h-1zM551 246h2v1h-2zM783 246h1v4h-1zM105 247h1v1h-1zM495 247h2v1h-2zM537 247h3v1h-3zM549 247h2v1h-2zM106 248h1v2h-1zM493 248h2v1h-2zM540 248h4v1h-4zM547 248h2v1h-2zM245 249h9v1h-9zM491 249h2v1h-2zM544 249h3v1h-3zM107 250h1v1h-1zM235 250h10v1h-10zM254 250h6v1h-6zM490 250h1v1h-1zM784 250h1v4h-1zM108 251h1v2h-1zM229 251h6v1h-6zM260 251h5v1h-5zM489 251h1v1h-1zM225 252h4v1h-4zM265 252h4v1h-4zM487 252h2v1h-2zM109 253h1v1h-1zM223 253h2v1h-2zM269 253h4v1h-4zM486 253h1v1h-1zM110 254h1v1h-1zM221 254h2v1h-2zM273 254h4v1h-4zM485 254h1v1h-1zM785 254h1v4h-1zM111 255h1v2h-1zM219 255h2v1h-2zM277 255h3v1h-3zM484 255h1v1h-1zM216 256h3v1h-3zM280 256h2v1h-2zM482 256h2v1h-2zM112 257h2v1h-2zM154 257h3v1h-3zM212 257h4v1h-4zM282 257h3v1h-3zM481 257h1v1h-1zM114 258h2v1h-2zM152 258h2v1h-2zM157 258h4v1h-4zM208 258h4v1h-4zM285 258h2v1h-2zM480 258h1v1h-1zM786 258h1v4h-1zM116 259h2v1h-2zM150 259h2v1h-2zM161 259h47v1h-47zM287 259h2v1h-2zM479 259h1v1h-1zM118 260h2v1h-2zM148 260h2v1h-2zM289 260h2v1h-2zM477 260h2v1h-2zM120 261h2v1h-2zM146 261h2v1h-2zM291 261h1v2h-1zM476 261h1v1h-1zM122 262h3v1h-3zM144 262h2v1h-2zM475 262h1v1h-1zM787 262h1v4h-1zM125 263h5v1h-5zM138 263h6v1h-6zM292 263h1v2h-1zM474 263h1v1h-1zM130 264h8v1h-8zM473 264h1v2h-1zM293 265h1v2h-1zM472 266h1v1h-1zM788 266h1v4h-1zM294 267h1v1h-1zM471 267h1v1h-1zM295 268h1v2h-1zM470 268h1v1h-1zM469 269h1v1h-1zM296 270h1v2h-1zM468 270h1v2h-1zM789 270h1v4h-1zM297 272h1v2h-1zM467 272h1v1h-1zM466 273h1v1h-1zM298 274h1v2h-1zM465 274h1v1h-1zM790 274h1v4h-1zM464 275h1v2h-1zM299 276h1v2h-1zM463 277h1v1h-1zM300 278h1v2h-1zM462 278h1v1h-1zM791 278h1v5h-1zM461 279h1v2h-1zM301 280h1v2h-1zM460 281h1v1h-1zM302 282h1v2h-1zM459 282h1v1h-1zM458 283h1v2h-1zM792 283h1v4h-1zM303 284h1v2h-1zM457 285h1v1h-1zM304 286h1v2h-1zM456 286h1v2h-1zM793 287h1v4h-1zM305 288h1v1h-1zM455 288h1v1h-1zM306 289h1v1h-1zM454 289h1v2h-1zM307 290h2v1h-2zM309 291h1v1h-1zM399 291h29v1h-29zM453 291h1v1h-1zM794 291h1v4h-1zM310 292h1v1h-1zM395 292h4v1h-4zM428 292h5v1h-5zM452 292h1v1h-1zM311 293h1v1h-1zM391 293h4v1h-4zM433 293h5v1h-5zM451 293h1v2h-1zM312 294h2v1h-2zM387 294h4v1h-4zM438 294h8v1h-8zM314 295h1v1h-1zM385 295h2v1h-2zM446 295h5v1h-5zM795 295h1v4h-1zM315 296h2v1h-2zM382 296h3v1h-3zM317 297h3v1h-3zM379 297h3v1h-3zM320 298h3v1h-3zM377 298h2v1h-2zM323 299h3v1h-3zM372 299h5v1h-5zM796 299h1v4h-1zM326 300h3v1h-3zM364 300h8v1h-8zM329 301h4v1h-4zM358 301h6v1h-6zM333 302h5v1h-5zM353 302h5v1h-5zM338 303h5v1h-5zM348 303h5v1h-5zM797 303h1v4h-1zM343 304h5v1h-5zM798 307h1v4h-1zM799 311h1v5h-1zM800 316h1v4h-1zM801 320h1v4h-1zM802 324h1v4h-1zM803 328h1v4h-1zM804 332h1v4h-1zM805 336h1v4h-1zM806 340h1v4h-1zM807 344h1v4h-1zM808 348h1v4h-1zM809 352h1v3h-1zM810 355h1v4h-1zM811 359h1v4h-1zM812 363h1v3h-1zM813 366h1v4h-1zM814 370h1v4h-1zM815 374h1v3h-1zM816 377h1v4h-1zM817 381h1v3h-1zM818 384h1v4h-1zM819 388h1v3h-1zM820 391h1v4h-1zM821 395h1v3h-1zM822 398h1v4h-1zM823 402h1v3h-1zM824 405h1v4h-1zM825 409h1v4h-1zM826 413h1v4h-1zM827 417h1v3h-1zM828 420h1v4h-1zM829 424h1v4h-1zM830 428h1v3h-1zM831 431h1v4h-1zM832 435h1v4h-1zM833 439h1v3h-1zM834 442h1v4h-1zM835 446h1v4h-1zM836 450h1v4h-1zM837 454h1v6h-1zM838 460h1v5h-1zM839 465h1v5h-1zM840 470h1v6h-1zM841 476h1v4h-1zM842 480h1v3h-1zM843 483h1v3h-1zM844 486h1v4h-1zM845 490h1v3h-1zM846 493h1v3h-1zM847 496h1v3h-1zM848 499h1v3h-1zM849 502h1v4h-1zM850 506h1v4h-1zM851 510h1v4h-1zM852 514h1v3h-1zM853 517h1v4h-1zM854 521h1v4h-1zM855 525h1v4h-1zM856 529h1v3h-1zM857 532h1v2h-1zM858 534h1v3h-1zM859 537h1v2h-1zM860 539h1v3h-1zM861 542h1v3h-1zM862 545h1v2h-1zM863 547h1v3h-1zM864 550h1v2h-1zM865 552h1v3h-1zM866 555h1v2h-1zM867 557h1v2h-1zM868 559h1v2h-1zM869 561h1v2h-1zM870 563h1v2h-1zM871 565h1v2h-1zM872 567h1v2h-1zM873 569h1v3h-1zM874 572h1v2h-1zM875 574h1v3h-1zM876 577h1v2h-1zM877 579h1v3h-1zM878 582h1v2h-1zM879 584h1v1h-1zM947 496h2v1h-2zM946 497h1v1h-1zM949 497h2v1h-2zM1042 497h2v1h-2zM945 498h1v1h-1zM951 498h2v1h-2zM1041 498h1v1h-1zM1044 498h3v1h-3zM944 499h1v1h-1zM953 499h1v1h-1zM1040 499h1v1h-1zM1047 499h2v1h-2zM943 500h1v1h-1zM954 500h1v1h-1zM1006 500h8v1h-8zM1039 500h1v1h-1zM1049 500h2v1h-2zM942 501h1v2h-1zM955 501h1v1h-1zM992 501h14v1h-14zM1014 501h6v1h-6zM1038 501h1v1h-1zM1050 501h1v1h-1zM956 502h1v1h-1zM980 502h12v1h-12zM1020 502h5v1h-5zM1037 502h1v1h-1zM1051 502h1v2h-1zM941 503h1v1h-1zM957 503h2v1h-2zM974 503h6v1h-6zM1025 503h4v1h-4zM1036 503h1v1h-1zM940 504h1v1h-1zM959 504h1v1h-1zM969 504h5v1h-5zM1029 504h4v1h-4zM1035 504h1v1h-1zM1052 504h1v2h-1zM939 505h1v1h-1zM960 505h1v1h-1zM967 505h2v1h-2zM1033 505h2v1h-2zM930 506h9v1h-9zM961 506h1v1h-1zM964 506h3v1h-3zM1053 506h1v2h-1zM930 507h1v1h-1zM962 507h2v1h-2zM929 508h1v2h-1zM1054 508h1v2h-1zM928 510h1v2h-1zM1055 510h1v3h-1zM927 512h1v3h-1zM1056 513h1v2h-1zM926 515h1v3h-1zM1057 515h1v2h-1zM1058 517h1v2h-1zM925 518h1v3h-1zM1059 519h1v2h-1zM924 521h1v2h-1zM1060 521h1v1h-1zM1061 522h1v1h-1zM923 523h1v3h-1zM1062 523h1v1h-1zM1063 524h2v1h-2zM1065 525h1v1h-1zM922 526h1v3h-1zM1066 526h1v1h-1zM1067 527h1v1h-1zM1068 528h1v1h-1zM921 529h1v3h-1zM1069 529h1v1h-1zM1070 530h1v1h-1zM1071 531h1v1h-1zM920 532h1v3h-1zM1072 532h1v1h-1zM1073 533h1v1h-1zM1074 534h1v1h-1zM919 535h1v3h-1zM1075 535h2v1h-2zM1077 536h2v1h-2zM1079 537h2v1h-2zM918 538h1v4h-1zM1081 538h2v1h-2zM1083 539h2v1h-2zM1085 540h2v1h-2zM1087 541h2v1h-2zM917 542h1v3h-1zM1089 542h1v2h-1zM1090 544h1v1h-1zM916 545h1v3h-1zM1091 545h1v2h-1zM1092 547h1v1h-1zM915 548h1v4h-1zM1093 548h1v1h-1zM1094 549h1v2h-1zM1095 551h1v1h-1zM914 552h1v3h-1zM1096 552h1v1h-1zM1097 553h1v1h-1zM1098 554h1v1h-1zM913 555h1v3h-1zM1099 555h2v1h-2zM1101 556h1v1h-1zM1102 557h1v1h-1zM912 558h1v4h-1zM1103 558h1v1h-1zM1104 559h1v1h-1zM1105 560h1v1h-1zM1106 561h1v1h-1zM911 562h1v3h-1zM1107 562h1v1h-1zM1108 563h1v1h-1zM1109 564h2v1h-2zM910 565h1v3h-1zM1111 565h1v1h-1zM1112 566h1v1h-1zM1113 567h1v1h-1zM909 568h1v3h-1zM1114 568h1v1h-1zM1115 569h3v1h-3zM1118 570h5v1h-5zM908 571h1v3h-1zM1123 571h5v1h-5zM1128 572h3v1h-3zM1131 573h2v1h-2zM907 574h1v4h-1zM1133 574h1v1h-1zM1134 575h2v1h-2zM1136 576h2v1h-2zM1138 577h1v1h-1zM906 578h1v3h-1zM1139 578h2v1h-2zM1141 579h1v1h-1zM1142 580h2v1h-2zM905 581h1v3h-1zM1144 581h2v1h-2zM1146 582h1v1h-1zM1147 583h2v1h-2zM904 584h1v1h-1zM1149 584h1v1h-1zM1416 452h2v1h-2zM1413 453h3v1h-3zM1410 454h3v1h-3zM1406 455h4v1h-4zM1402 456h4v1h-4zM1397 457h5v1h-5zM1393 458h4v1h-4zM1389 459h4v1h-4zM1386 460h3v1h-3zM1385 461h1v1h-1zM1384 462h1v1h-1zM1383 463h1v1h-1zM1382 464h1v1h-1zM1380 465h2v1h-2zM1379 466h1v1h-1zM1378 467h1v1h-1zM1377 468h1v1h-1zM1376 469h1v1h-1zM1375 470h1v1h-1zM1373 471h2v1h-2zM1372 472h1v1h-1zM1370 473h2v1h-2zM1369 474h1v1h-1zM1367 475h2v1h-2zM1366 476h1v1h-1zM1364 477h2v1h-2zM1363 478h1v1h-1zM1361 479h2v1h-2zM1360 480h1v1h-1zM1359 481h1v1h-1zM1357 482h2v1h-2zM1356 483h1v1h-1zM1329 484h3v1h-3zM1354 484h2v1h-2zM1326 485h3v1h-3zM1332 485h2v1h-2zM1352 485h2v1h-2zM1323 486h3v1h-3zM1334 486h2v1h-2zM1350 486h2v1h-2zM1321 487h2v1h-2zM1336 487h6v1h-6zM1347 487h3v1h-3zM1319 488h2v1h-2zM1342 488h5v1h-5zM1317 489h2v1h-2zM1315 490h2v1h-2zM1312 491h3v1h-3zM1308 492h4v1h-4zM1305 493h3v1h-3zM1305 494h1v1h-1zM1304 495h1v4h-1zM1303 499h1v4h-1zM1302 503h1v4h-1zM1301 507h1v4h-1zM1300 511h1v3h-1zM1299 514h1v2h-1zM1298 516h1v3h-1zM1297 519h1v3h-1zM1296 522h1v2h-1zM1295 524h1v3h-1zM1294 527h1v2h-1zM1293 529h1v2h-1zM1292 531h1v2h-1zM1291 533h1v2h-1zM1290 535h1v2h-1zM1289 537h1v2h-1zM1288 539h1v2h-1zM1287 541h1v2h-1zM1286 543h1v1h-1zM1285 544h1v1h-1zM1284 545h1v2h-1zM1283 547h1v1h-1zM1282 548h1v1h-1zM1281 549h1v2h-1zM1280 551h1v1h-1zM1279 552h1v1h-1zM1278 553h1v2h-1zM1277 555h1v1h-1zM1276 556h1v1h-1zM1275 557h1v1h-1zM1274 558h1v1h-1zM1273 559h1v2h-1zM1272 561h1v1h-1zM1271 562h1v1h-1zM1270 563h1v1h-1zM1269 564h1v1h-1zM1268 565h1v1h-1zM1267 566h1v1h-1zM1266 567h1v2h-1zM1265 569h1v1h-1zM1264 570h1v1h-1zM1263 571h1v1h-1zM1262 572h1v1h-1zM1261 573h1v1h-1zM1260 574h1v2h-1zM1259 576h1v1h-1zM1258 577h1v1h-1zM1257 578h1v1h-1zM1256 579h1v1h-1zM1255 580h1v2h-1zM1254 582h1v1h-1zM1253 583h1v1h-1zM1252 584h1v1h-1z"/>
<rect x="2" y="103" width="1" height="68" fill="#000"/>
<rect x="0" y="103" width="5" height="63" fill="#000"/>
<rect x="10" y="160" width="1" height="17" fill="#000"/>
<rect x="8" y="165" width="5" height="2" fill="#000"/>
<rect x="18" y="160" width="1" height="21" fill="#000"/>
<rect x="16" y="166" width="5" height="12" fill="#000"/>
<rect x="26" y="177" width="1" height="58" fill="#000"/>
<rect x="24" y="178" width="5" height="50" fill="#000"/>
<rect x="34" y="203" width="1" height="28" fill="#000"/>
<rect x="32" y="211" width="5" height="17" fill="#000"/>
<rect x="33" y="212" width="3" height="15" fill="#fff"/>
<rect x="42" y="194" width="1" height="22" fill="#000"/>
<rect x="40" y="206" width="5" height="6" fill="#000"/>
<rect x="41" y="207" width="3" height="4" fill="#fff"/>
<rect x="50" y="176" width="1" height="39" fill="#000"/>
<rect x="48" y="183" width="5" height="24" fill="#000"/>
<rect x="49" y="184" width="3" height="22" fill="#fff"/>
<rect x="58" y="154" width="1" height="30" fill="#000"/>
<rect x="56" y="165" width="5" height="19" fill="#000"/>
<rect x="57" y="166" width="3" height="17" fill="#fff"/>
<rect x="66" y="145" width="1" height="21" fill="#000"/>
<rect x="64" y="147" width="5" height="18" fill="#000"/>
<rect x="65" y="148" width="3" height="16" fill="#fff"/>
<rect x="74" y="145" width="1" height="36" fill="#000"/>
<rect x="72" y="145" width="5" height="30" fill="#000"/>
<rect x="82" y="166" width="1" height="18" fill="#000"/>
<rect x="80" y="174" width="5" height="1" fill="#000"/>
<rect x="90" y="161" width="1" height="28" fill="#000"/>
<rect x="88" y="174" width="5" height="11" fill="#000"/>
<rect x="98" y="176" width="1" height="48" fill="#000"/>
<rect x="96" y="183" width="5" height="35" fill="#000"/>
<rect x="106" y="215" width="1" height="27" fill="#000"/>
<rect x="104" y="216" width="5" height="26" fill="#000"/>
<rect x="114" y="227" width="1" height="16" fill="#000"/>
<rect x="112" y="232" width="5" height="7" fill="#000"/>
<rect x="122" y="205" width="1" height="37" fill="#000"/>
<rect x="120" y="217" width="5" height="22" fill="#000"/>
<rect x="121" y="218" width="3" height="20" fill="#fff"/>
<rect x="130" y="209" width="1" height="18" fill="#000"/>
<rect x="128" y="216" width="5" height="8" fill="#000"/>
<rect x="138" y="220" width="1" height="20" fill="#000"/>
<rect x="136" y="223" width="5" height="1" fill="#000"/>
<rect x="146" y="219" width="1" height="18" fill="#000"/>
<rect x="144" y="223" width="5" height="8" fill="#000"/>
<rect x="154" y="225" width="1" height="13" fill="#000"/>
<rect x="152" y="229" width="5" height="2" fill="#000"/>
<rect x="162" y="228" width="1" height="12" fill="#000"/>
<rect x="160" y="229" width="5" height="1" fill="#000"/>
<rect x="170" y="206" width="1" height="27" fill="#000"/>
<rect x="168" y="219" width="5" height="11" fill="#000"/>
<rect x="169" y="220" width="3" height="9" fill="#fff"/>
<rect x="178" y="206" width="1" height="17" fill="#000"/>
<rect x="176" y="210" width="5" height="10" fill="#000"/>
<rect x="177" y="211" width="3" height="8" fill="#fff"/>
<rect x="186" y="208" width="1" height="23" fill="#000"/>
<rect x="184" y="211" width="5" height="12" fill="#000"/>
<rect x="194" y="175" width="1" height="54" fill="#000"/>
<rect x="192" y="175" width="5" height="47" fill="#000"/>
<rect x="193" y="176" width="3" height="45" fill="#fff"/>
<rect x="202" y="173" width="1" height="27" fill="#000"/>
<rect x="200" y="175" width="5" height="10" fill="#000"/>
<rect x="210" y="183" width="1" height="12" fill="#000"/>
<rect x="208" y="184" width="5" height="11" fill="#000"/>
<rect x="218" y="179" width="1" height="26" fill="#000"/>
<rect x="216" y="194" width="5" height="4" fill="#000"/>
<rect x="226" y="184" width="1" height="16" fill="#000"/>
<rect x="224" y="187" width="5" height="11" fill="#000"/>
<rect x="225" y="188" width="3" height="9" fill="#fff"/>
<rect x="234" y="182" width="1" height="10" fill="#000"/>
<rect x="232" y="186" width="5" height="2" fill="#000"/>
<rect x="242" y="179" width="1" height="33" fill="#000"/>
<rect x="240" y="186" width="5" height="21" fill="#000"/>
<rect x="250" y="204" width="1" height="13" fill="#000"/>
<rect x="248" y="205" width="5" height="7" fill="#000"/>
<rect x="258" y="208" width="1" height="22" fill="#000"/>
<rect x="256" y="211" width="5" height="16" fill="#000"/>
<rect x="266" y="221" width="1" height="40" fill="#000"/>
<rect x="264" y="224" width="5" height="27" fill="#000"/>
<rect x="274" y="244" width="1" height="20" fill="#000"/>
<rect x="272" y="246" width="5" height="5" fill="#000"/>
<rect x="273" y="247" width="3" height="3" fill="#fff"/>
<rect x="282" y="228" width="1" height="27" fill="#000"/>
<rect x="280" y="241" width="5" height="6" fill="#000"/>
<rect x="281" y="242" width="3" height="4" fill="#fff"/>
<rect x="290" y="216" width="1" height="36" fill="#000"/>
<rect x="288" y="241" width="5" height="8" fill="#000"/>
<rect x="298" y="234" width="1" height="79" fill="#000"/>
<rect x="296" y="248" width="5" height="57" fill="#000"/>
<rect x="306" y="265" width="1" height="47" fill="#000"/>
<rect x="304" y="289" width="5" height="16" fill="#000"/>
<rect x="305" y="290" width="3" height="14" fill="#fff"/>
<rect x="314" y="266" width="1" height="33" fill="#000"/>
<rect x="312" y="273" width="5" height="16" fill="#000"/>
<rect x="313" y="274" width="3" height="14" fill="#fff"/>
<rect x="322" y="252" width="1" height="23" fill="#000"/>
<rect x="320" y="261" width="5" height="13" fill="#000"/>
<rect x="321" y="262" width="3" height="11" fill="#fff"/>
<rect x="330" y="253" width="1" height="16" fill="#000"/>
<rect x="328" y="259" width="5" height="2" fill="#000"/>
<rect x="338" y="243" width="1" height="25" fill="#000"/>
<rect x="336" y="244" width="5" height="16" fill="#000"/>
<rect x="337" y="245" width="3" height="14" fill="#fff"/>
<rect x="346" y="220" width="1" height="35" fill="#000"/>
<rect x="344" y="243" width="5" height="2" fill="#000"/>
<rect x="354" y="237" width="1" height="9" fill="#000"/>
<rect x="352" y="239" width="5" height="3" fill="#000"/>
<rect x="353" y="240" width="3" height="1" fill="#fff"/>
<rect x="362" y="209" width="1" height="44" fill="#000"/>
<rect x="360" y="226" width="5" height="13" fill="#000"/>
<rect x="361" y="227" width="3" height="11" fill="#fff"/>
<rect x="370" y="213" width="1" height="25" fill="#000"/>
<rect x="368" y="225" width="5" height="10" fill="#000"/>
<rect x="378" y="220" width="1" height="21" fill="#000"/>
<rect x="376" y="224" width="5" height="11" fill="#000"/>
<rect x="377" y="225" width="3" height="9" fill="#fff"/>
<rect x="386" y="218" width="1" height="24" fill="#000"/>
<rect x="384" y="224" width="5" height="5" fill="#000"/>
<rect x="394" y="226" width="1" height="20" fill="#000"/>
<rect x="392" y="228" width="5" height="6" fill="#000"/>
<rect x="402" y="226" width="1" height="9" fill="#000"/>
<rect x="400" y="229" width="5" height="5" fill="#000"/>
<rect x="401" y="230" width="3" height="3" fill="#fff"/>
<rect x="410" y="208" width="1" height="31" fill="#000"/>
<rect x="408" y="212" width="5" height="19" fill="#000"/>
<rect x="409" y="213" width="3" height="17" fill="#fff"/>
<rect x="418" y="195" width="1" height="19" fill="#000"/>
<rect x="416" y="205" width="5" height="8" fill="#000"/>
<rect x="417" y="206" width="3" height="6" fill="#fff"/>
<rect x="426" y="193" width="1" height="16" fill="#000"/>
<rect x="424" y="203" width="5" height="3" fill="#000"/>
<rect x="425" y="204" width="3" height="1" fill="#fff"/>
<rect x="434" y="183" width="1" height="30" fill="#000"/>
<rect x="432" y="202" width="5" height="9" fill="#000"/>
<rect x="442" y="183" width="1" height="32" fill="#000"/>
<rect x="440" y="188" width="5" height="23" fill="#000"/>
<rect x="441" y="189" width="3" height="21" fill="#fff"/>
<rect x="450" y="187" width="1" height="11" fill="#000"/>
<rect x="448" y="188" width="5" height="2" fill="#000"/>
<rect x="458" y="185" width="1" height="19" fill="#000"/>
<rect x="456" y="190" width="5" height="7" fill="#000"/>
<rect x="466" y="193" width="1" height="26" fill="#000"/>
<rect x="464" y="196" width="5" height="18" fill="#000"/>
<rect x="474" y="196" width="1" height="22" fill="#000"/>
<rect x="472" y="210" width="5" height="4" fill="#000"/>
<rect x="473" y="211" width="3" height="2" fill="#fff"/>
<rect x="482" y="205" width="1" height="21" fill="#000"/>
<rect x="480" y="207" width="5" height="4" fill="#000"/>
<rect x="481" y="208" width="3" height="2" fill="#fff"/>
<rect x="490" y="188" width="1" height="21" fill="#000"/>
<rect x="488" y="193" width="5" height="15" fill="#000"/>
<rect x="489" y="194" width="3" height="13" fill="#fff"/>
<rect x="498" y="191" width="1" height="12" fill="#000"/>
<rect x="496" y="193" width="5" height="3" fill="#000"/>
<rect x="506" y="189" width="1" height="15" fill="#000"/>
<rect x="504" y="194" width="5" height="5" fill="#000"/>
<rect x="514" y="196" width="1" height="17" fill="#000"/>
<rect x="512" y="198" width="5" height="14" fill="#000"/>
<rect x="522" y="200" width="1" height="14" fill="#000"/>
<rect x="520" y="202" width="5" height="10" fill="#000"/>
<rect x="521" y="203" width="3" height="8" fill="#fff"/>
<rect x="530" y="146" width="1" height="64" fill="#000"/>
<rect x="528" y="147" width="5" height="55" fill="#000"/>
<rect x="529" y="148" width="3" height="53" fill="#fff"/>
<rect x="538" y="127" width="1" height="22" fill="#000"/>
<rect x="536" y="131" width="5" height="17" fill="#000"/>
<rect x="537" y="132" width="3" height="15" fill="#fff"/>
<rect x="546" y="131" width="1" height="14" fill="#000"/>
<rect x="544" y="131" width="5" height="7" fill="#000"/>
<rect x="554" y="129" width="1" height="23" fill="#000"/>
<rect x="552" y="136" width="5" height="8" fill="#000"/>
<rect x="562" y="139" width="1" height="9" fill="#000"/>
<rect x="560" y="142" width="5" height="2" fill="#000"/>
<rect x="570" y="135" width="1" height="10" fill="#000"/>
<rect x="568" y="137" width="5" height="6" fill="#000"/>
<rect x="569" y="138" width="3" height="4" fill="#fff"/>
<rect x="578" y="118" width="1" height="29" fill="#000"/>
<rect x="576" y="134" width="5" height="4" fill="#000"/>
<rect x="577" y="135" width="3" height="2" fill="#fff"/>
<rect x="586" y="130" width="1" height="7" fill="#000"/>
<rect x="584" y="134" width="5" height="1" fill="#000"/>
<rect x="594" y="139" width="1" height="9" fill="#000"/>
<rect x="592" y="140" width="5" height="2" fill="#000"/>
<rect x="602" y="140" width="1" height="28" fill="#000"/>
<rect x="600" y="141" width="5" height="11" fill="#000"/>
<rect x="610" y="137" width="1" height="15" fill="#000"/>
<rect x="608" y="140" width="5" height="12" fill="#000"/>
<rect x="609" y="141" width="3" height="10" fill="#fff"/>
<rect x="618" y="136" width="1" height="11" fill="#000"/>
<rect x="616" y="140" width="5" height="2" fill="#000"/>
<rect x="626" y="110" width="1" height="34" fill="#000"/>
<rect x="624" y="116" width="5" height="26" fill="#000"/>
<rect x="625" y="117" width="3" height="24" fill="#fff"/>
<rect x="634" y="112" width="1" height="15" fill="#000"/>
<rect x="632" y="115" width="5" height="9" fill="#000"/>
<rect x="642" y="111" width="1" height="16" fill="#000"/>
<rect x="640" y="115" width="5" height="9" fill="#000"/>
<rect x="641" y="116" width="3" height="7" fill="#fff"/>
<rect x="650" y="104" width="1" height="39" fill="#000"/>
<rect x="648" y="115" width="5" height="27" fill="#000"/>
<rect x="658" y="134" width="1" height="17" fill="#000"/>
<rect x="656" y="141" width="5" height="1" fill="#000"/>
<rect x="666" y="140" width="1" height="24" fill="#000"/>
<rect x="664" y="141" width="5" height="17" fill="#000"/>
<rect x="674" y="134" width="1" height="30" fill="#000"/>
<rect x="672" y="139" width="5" height="19" fill="#000"/>
<rect x="673" y="140" width="3" height="17" fill="#fff"/>
<rect x="682" y="134" width="1" height="19" fill="#000"/>
<rect x="680" y="139" width="5" height="8" fill="#000"/>
<rect x="690" y="142" width="1" height="10" fill="#000"/>
<rect x="688" y="146" width="5" height="5" fill="#000"/>
<rect x="698" y="140" width="1" height="18" fill="#000"/>
<rect x="696" y="149" width="5" height="2" fill="#000"/>
<rect x="706" y="147" width="1" height="11" fill="#000"/>
<rect x="704" y="149" width="5" height="3" fill="#000"/>
<rect x="714" y="148" width="1" height="7" fill="#000"/>
<rect x="712" y="150" width="5" height="2" fill="#000"/>
<rect x="722" y="139" width="1" height="21" fill="#000"/>
<rect x="720" y="147" width="5" height="4" fill="#000"/>
<rect x="721" y="148" width="3" height="2" fill="#fff"/>
<rect x="730" y="104" width="1" height="53" fill="#000"/>
<rect x="728" y="124" width="5" height="24" fill="#000"/>
<rect x="729" y="125" width="3" height="22" fill="#fff"/>
<rect x="738" y="117" width="1" height="17" fill="#000"/>
<rect x="736" y="120" width="5" height="4" fill="#000"/>
<rect x="737" y="121" width="3" height="2" fill="#fff"/>
<rect x="746" y="60" width="1" height="61" fill="#000"/>
<rect x="744" y="69" width="5" height="50" fill="#000"/>
<rect x="745" y="70" width="3" height="48" fill="#fff"/>
<rect x="754" y="67" width="1" height="20" fill="#000"/>
<rect x="752" y="69" width="5" height="13" fill="#000"/>
<rect x="762" y="79" width="1" height="35" fill="#000"/>
<rect x="760" y="81" width="5" height="27" fill="#000"/>
<rect x="770" y="107" width="1" height="93" fill="#000"/>
<rect x="768" y="107" width="5" height="77" fill="#000"/>
<rect x="778" y="182" width="1" height="125" fill="#000"/>
<rect x="776" y="183" width="5" height="121" fill="#000"/>
<rect x="786" y="269" width="1" height="36" fill="#000"/>
<rect x="784" y="284" width="5" height="20" fill="#000"/>
<rect x="785" y="285" width="3" height="18" fill="#fff"/>
<rect x="794" y="278" width="1" height="78" fill="#000"/>
<rect x="792" y="284" width="5" height="49" fill="#000"/>
<rect x="802" y="319" width="1" height="39" fill="#000"/>
<rect x="800" y="332" width="5" height="17" fill="#000"/>
<rect x="810" y="340" width="1" height="24" fill="#000"/>
<rect x="808" y="348" width="5" height="10" fill="#000"/>
<rect x="818" y="304" width="1" height="89" fill="#000"/>
<rect x="816" y="357" width="5" height="24" fill="#000"/>
<rect x="826" y="370" width="1" height="27" fill="#000"/>
<rect x="824" y="381" width="5" height="9" fill="#000"/>
<rect x="834" y="382" width="1" height="12" fill="#000"/>
<rect x="832" y="382" width="5" height="8" fill="#000"/>
<rect x="842" y="383" width="1" height="101" fill="#000"/>
<rect x="840" y="388" width="5" height="73" fill="#000"/>
<rect x="850" y="447" width="1" height="34" fill="#000"/>
<rect x="848" y="460" width="5" height="5" fill="#000"/>
<rect x="858" y="415" width="1" height="63" fill="#000"/>
<rect x="856" y="447" width="5" height="18" fill="#000"/>
<rect x="857" y="448" width="3" height="16" fill="#fff"/>
<rect x="866" y="429" width="1" height="39" fill="#000"/>
<rect x="864" y="447" width="5" height="6" fill="#000"/>
<rect x="874" y="431" width="1" height="39" fill="#000"/>
<rect x="872" y="438" width="5" height="14" fill="#000"/>
<rect x="873" y="439" width="3" height="12" fill="#fff"/>
<rect x="882" y="433" width="1" height="83" fill="#000"/>
<rect x="880" y="438" width="5" height="67" fill="#000"/>
<rect x="890" y="396" width="1" height="114" fill="#000"/>
<rect x="888" y="397" width="5" height="107" fill="#000"/>
<rect x="889" y="398" width="3" height="105" fill="#fff"/>
<rect x="898" y="326" width="1" height="92" fill="#000"/>
<rect x="896" y="397" width="5" height="17" fill="#000"/>
<rect x="906" y="382" width="1" height="40" fill="#000"/>
<rect x="904" y="392" width="5" height="22" fill="#000"/>
<rect x="905" y="393" width="3" height="20" fill="#fff"/>
<rect x="914" y="381" width="1" height="48" fill="#000"/>
<rect x="912" y="392" width="5" height="13" fill="#000"/>
<rect x="922" y="383" width="1" height="31" fill="#000"/>
<rect x="920" y="392" width="5" height="12" fill="#000"/>
<rect x="921" y="393" width="3" height="10" fill="#fff"/>
<rect x="930" y="392" width="1" height="33" fill="#000"/>
<rect x="928" y="392" width="5" height="28" fill="#000"/>
<rect x="938" y="412" width="1" height="55" fill="#000"/>
<rect x="936" y="419" width="5" height="32" fill="#000"/>
<rect x="946" y="419" width="1" height="33" fill="#000"/>
<rect x="944" y="422" width="5" height="29" fill="#000"/>
<rect x="945" y="423" width="3" height="27" fill="#fff"/>
<rect x="954" y="420" width="1" height="58" fill="#000"/>
<rect x="952" y="421" width="5" height="52" fill="#000"/>
<rect x="962" y="445" width="1" height="66" fill="#000"/>
<rect x="960" y="472" width="5" height="31" fill="#000"/>
<rect x="970" y="426" width="1" height="92" fill="#000"/>
<rect x="968" y="430" width="5" height="73" fill="#000"/>
<rect x="969" y="431" width="3" height="71" fill="#fff"/>
<rect x="978" y="425" width="1" height="24" fill="#000"/>
<rect x="976" y="429" width="5" height="16" fill="#000"/>
<rect x="986" y="421" width="1" height="38" fill="#000"/>
<rect x="984" y="429" width="5" height="14" fill="#000"/>
<rect x="985" y="430" width="3" height="12" fill="#fff"/>
<rect x="994" y="429" width="1" height="26" fill="#000"/>
<rect x="992" y="429" width="5" height="18" fill="#000"/>
<rect x="1002" y="440" width="1" height="29" fill="#000"/>
<rect x="1000" y="445" width="5" height="15" fill="#000"/>
<rect x="1010" y="429" width="1" height="34" fill="#000"/>
<rect x="1008" y="451" width="5" height="8" fill="#000"/>
<rect x="1009" y="452" width="3" height="6" fill="#fff"/>
<rect x="1018" y="428" width="1" height="43" fill="#000"/>
<rect x="1016" y="451" width="5" height="7" fill="#000"/>
<rect x="1026" y="448" width="1" height="38" fill="#000"/>
<rect x="1024" y="456" width="5" height="16" fill="#000"/>
<rect x="1034" y="448" width="1" height="26" fill="#000"/>
<rect x="1032" y="458" width="5" height="14" fill="#000"/>
<rect x="1033" y="459" width="3" height="12" fill="#fff"/>
<rect x="1042" y="456" width="1" height="22" fill="#000"/>
<rect x="1040" y="458" width="5" height="6" fill="#000"/>
<rect x="1050" y="461" width="1" height="38" fill="#000"/>
<rect x="1048" y="463" width="5" height="22" fill="#000"/>
<rect x="1058" y="475" width="1" height="67" fill="#000"/>
<rect x="1056" y="484" width="5" height="58" fill="#000"/>
<rect x="1066" y="498" width="1" height="48" fill="#000"/>
<rect x="1064" y="508" width="5" height="32" fill="#000"/>
<rect x="1065" y="509" width="3" height="30" fill="#fff"/>
<rect x="1074" y="501" width="1" height="39" fill="#000"/>
<rect x="1072" y="501" width="5" height="31" fill="#000"/>
<rect x="1082" y="509" width="1" height="25" fill="#000"/>
<rect x="1080" y="522" width="5" height="6" fill="#000"/>
<rect x="1081" y="523" width="3" height="4" fill="#fff"/>
<rect x="1090" y="508" width="1" height="25" fill="#000"/>
<rect x="1088" y="518" width="5" height="6" fill="#000"/>
<rect x="1089" y="519" width="3" height="4" fill="#fff"/>
<rect x="1098" y="518" width="1" height="54" fill="#000"/>
<rect x="1096" y="518" width="5" height="44" fill="#000"/>
<rect x="1106" y="524" width="1" height="40" fill="#000"/>
<rect x="1104" y="530" width="5" height="32" fill="#000"/>
<rect x="1105" y="531" width="3" height="30" fill="#fff"/>
<rect x="1114" y="527" width="1" height="29" fill="#000"/>
<rect x="1112" y="530" width="5" height="10" fill="#000"/>
<rect x="1122" y="531" width="1" height="25" fill="#000"/>
<rect x="1120" y="531" width="5" height="9" fill="#000"/>
<rect x="1121" y="532" width="3" height="7" fill="#fff"/>
<rect x="1130" y="508" width="1" height="32" fill="#000"/>
<rect x="1128" y="521" width="5" height="11" fill="#000"/>
<rect x="1129" y="522" width="3" height="9" fill="#fff"/>
<rect x="1138" y="516" width="1" height="47" fill="#000"/>
<rect x="1136" y="521" width="5" height="34" fill="#000"/>
<rect x="1146" y="537" width="1" height="33" fill="#000"/>
<rect x="1144" y="552" width="5" height="3" fill="#000"/>
<rect x="1145" y="553" width="3" height="1" fill="#fff"/>
<rect x="1154" y="341" width="1" height="219" fill="#000"/>
<rect x="1152" y="385" width="5" height="167" fill="#000"/>
<rect x="1153" y="386" width="3" height="165" fill="#fff"/>
<rect x="1162" y="371" width="1" height="38" fill="#000"/>
<rect x="1160" y="375" width="5" height="10" fill="#000"/>
<rect x="1161" y="376" width="3" height="8" fill="#fff"/>
<rect x="1170" y="368" width="1" height="19" fill="#000"/>
<rect x="1168" y="375" width="5" height="11" fill="#000"/>
<rect x="1178" y="384" width="1" height="45" fill="#000"/>
<rect x="1176" y="385" width="5" height="30" fill="#000"/>
<rect x="1186" y="383" width="1" height="39" fill="#000"/>
<rect x="1184" y="405" width="5" height="10" fill="#000"/>
<rect x="1185" y="406" width="3" height="8" fill="#fff"/>
<rect x="1194" y="401" width="1" height="84" fill="#000"/>
<rect x="1192" y="405" width="5" height="70" fill="#000"/>
<rect x="1202" y="444" width="1" height="55" fill="#000"/>
<rect x="1200" y="474" width="5" height="8" fill="#000"/>
<rect x="1210" y="450" width="1" height="41" fill="#000"/>
<rect x="1208" y="458" width="5" height="24" fill="#000"/>
<rect x="1209" y="459" width="3" height="22" fill="#fff"/>
<rect x="1218" y="456" width="1" height="32" fill="#000"/>
<rect x="1216" y="458" width="5" height="10" fill="#000"/>
<rect x="1226" y="454" width="1" height="26" fill="#000"/>
<rect x="1224" y="467" width="5" height="4" fill="#000"/>
<rect x="1234" y="365" width="1" height="114" fill="#000"/>
<rect x="1232" y="427" width="5" height="44" fill="#000"/>
<rect x="1233" y="428" width="3" height="42" fill="#fff"/>
<rect x="1242" y="417" width="1" height="77" fill="#000"/>
<rect x="1240" y="428" width="5" height="17" fill="#000"/>
<rect x="1250" y="417" width="1" height="40" fill="#000"/>
<rect x="1248" y="443" width="5" height="3" fill="#000"/>
<rect x="1249" y="444" width="3" height="1" fill="#fff"/>
<rect x="1258" y="436" width="1" height="46" fill="#000"/>
<rect x="1256" y="443" width="5" height="10" fill="#000"/>
<rect x="1266" y="438" width="1" height="22" fill="#000"/>
<rect x="1264" y="446" width="5" height="7" fill="#000"/>
<rect x="1265" y="447" width="3" height="5" fill="#fff"/>
<rect x="1274" y="425" width="1" height="30" fill="#000"/>
<rect x="1272" y="432" width="5" height="15" fill="#000"/>
<rect x="1273" y="433" width="3" height="13" fill="#fff"/>
<rect x="1282" y="430" width="1" height="19" fill="#000"/>
<rect x="1280" y="432" width="5" height="7" fill="#000"/>
<rect x="1290" y="398" width="1" height="43" fill="#000"/>
<rect x="1288" y="423" width="5" height="16" fill="#000"/>
<rect x="1289" y="424" width="3" height="14" fill="#fff"/>
<rect x="1298" y="406" width="1" height="28" fill="#000"/>
<rect x="1296" y="416" width="5" height="9" fill="#000"/>
<rect x="1297" y="417" width="3" height="7" fill="#fff"/>
<rect x="1306" y="416" width="1" height="18" fill="#000"/>
<rect x="1304" y="416" width="5" height="8" fill="#000"/>
<rect x="1314" y="401" width="1" height="7" fill="#000"/>
<rect x="1312" y="401" width="5" height="5" fill="#000"/>
<rect x="1322" y="405" width="1" height="24" fill="#000"/>
<rect x="1320" y="407" width="5" height="8" fill="#000"/>
<rect x="1330" y="406" width="1" height="14" fill="#000"/>
<rect x="1328" y="409" width="5" height="6" fill="#000"/>
<rect x="1329" y="410" width="3" height="4" fill="#fff"/>
<rect x="1338" y="374" width="1" height="37" fill="#000"/>
<rect x="1336" y="384" width="5" height="26" fill="#000"/>
<rect x="1337" y="385" width="3" height="24" fill="#fff"/>
<rect x="1346" y="378" width="1" height="26" fill="#000"/>
<rect x="1344" y="384" width="5" height="14" fill="#000"/>
<rect x="1354" y="377" width="1" height="23" fill="#000"/>
<rect x="1352" y="380" width="5" height="18" fill="#000"/>
<rect x="1353" y="381" width="3" height="16" fill="#fff"/>
<rect x="1362" y="377" width="1" height="14" fill="#000"/>
<rect x="1360" y="380" width="5" height="11" fill="#000"/>
<rect x="1370" y="374" width="1" height="23" fill="#000"/>
<rect x="1368" y="387" width="5" height="3" fill="#000"/>
<rect x="1369" y="388" width="3" height="1" fill="#fff"/>
<rect x="1378" y="386" width="1" height="24" fill="#000"/>
<rect x="1376" y="386" width="5" height="24" fill="#000"/>
<rect x="1386" y="409" width="1" height="13" fill="#000"/>
<rect x="1384" y="409" width="5" height="8" fill="#000"/>
<rect x="1394" y="412" width="1" height="27" fill="#000"/>
<rect x="1392" y="415" width="5" height="2" fill="#000"/>
<rect x="1402" y="413" width="1" height="21" fill="#000"/>
<rect x="1400" y="415" width="5" height="19" fill="#000"/>
<rect x="1410" y="424" width="1" height="11" fill="#000"/>
<rect x="1408" y="427" width="5" height="7" fill="#000"/>
<rect x="1409" y="428" width="3" height="5" fill="#fff"/>
<rect x="1418" y="426" width="1" height="3" fill="#000"/>
<rect x="1416" y="426" width="5" height="1" fill="#000"/>
</g>
<rect x="1366" y="401" width="84" height="11" fill="#00ff00"/>
<rect x="2" y="349" width="6" height="6" fill="#ff0000"/>
<rect x="4" y="351" width="2" height="2" fill="#fff"/>
<rect x="1624" y="349" width="6" height="6" fill="#ff0000"/>
<rect x="1626" y="351" width="2" height="2" fill="#fff"/>
<rect x="2" y="375" width="6" height="6" fill="#ff0000"/>
<rect x="4" y="377" width="2" height="2" fill="#fff"/>
<rect x="1624" y="375" width="6" height="6" fill="#ff0000"/>
<rect x="1626" y="377" width="2" height="2" fill="#fff"/>
<rect x="2" y="401" width="6" height="6" fill="#32cd32"/>
<rect x="4" y="403" width="2" height="2" fill="#fff"/>
<rect x="1624" y="401" width="6" height="6" fill="#32cd32"/>
<rect x="1626" y="403" width="2" height="2" fill="#fff"/>
<rect x="2" y="449" width="6" height="6" fill="#0000ff"/>
<rect x="4" y="451" width="2" height="2" fill="#fff"/>
<rect x="1624" y="449" width="6" height="6" fill="#0000ff"/>
<rect x="1626" y="451" width="2" height="2" fill="#fff"/>
<rect x="2" y="474" width="6" height="6" fill="#0000ff"/>
<rect x="4" y="476" width="2" height="2" fill="#fff"/>
<rect x="1624" y="474" width="6" height="6" fill="#0000ff"/>
<rect x="1626" y="476" width="2" height="2" fill="#fff"/>
<rect x="1467" y="404" width="10" height="1" fill="#ff0000"/>
<rect x="1474" y="402" width="3" height="4" fill="#ff0000"/>
<rect x="1475" y="403" width="1" height="2" fill="#fff"/>
<rect x="1477" y="388" width="100" height="33" fill="#ff0000"/>
<rect x="1478" y="389" width="98" height="31" fill="#fff"/>
<text transform="translate(1527,415) scale(.97,1)" font-size="27" fill="#ff0000" text-anchor="middle">106.438</text>
<text x="1394" y="523" font-size="32" font-weight="600" fill="#00ff00" font-family='"Liberation Serif","Noto Serif CJK SC",serif' style="text-shadow:1px 1px 0 rgba(0,0,60,.7)">多空转折点</text>
<polygon points="1428.5,33 1438.5,33 1433.5,38" fill="#c0c0c0"/>
<rect x="1631" y="54" width="2" height="1" fill="#000"/>
<text transform="translate(1636.5,57.5) scale(.94,1)" font-size="9.8" fill="#000" stroke="#000" stroke-width=".1" text-anchor="start">109.355</text>
<rect x="1631" y="87" width="2" height="1" fill="#000"/>
<text transform="translate(1636.5,90.5) scale(.94,1)" font-size="9.8" fill="#000" stroke="#000" stroke-width=".1" text-anchor="start">109.080</text>
<rect x="1631" y="120" width="2" height="1" fill="#000"/>
<text transform="translate(1636.5,123.5) scale(.94,1)" font-size="9.8" fill="#000" stroke="#000" stroke-width=".1" text-anchor="start">108.805</text>
<rect x="1631" y="153" width="2" height="1" fill="#000"/>
<text transform="translate(1636.5,156.5) scale(.94,1)" font-size="9.8" fill="#000" stroke="#000" stroke-width=".1" text-anchor="start">108.530</text>
<rect x="1631" y="186" width="2" height="1" fill="#000"/>
<text transform="translate(1636.5,189.5) scale(.94,1)" font-size="9.8" fill="#000" stroke="#000" stroke-width=".1" text-anchor="start">108.255</text>
<rect x="1631" y="219" width="2" height="1" fill="#000"/>
<text transform="translate(1636.5,222.5) scale(.94,1)" font-size="9.8" fill="#000" stroke="#000" stroke-width=".1" text-anchor="start">107.980</text>
<rect x="1631" y="252" width="2" height="1" fill="#000"/>
<text transform="translate(1636.5,255.5) scale(.94,1)" font-size="9.8" fill="#000" stroke="#000" stroke-width=".1" text-anchor="start">107.705</text>
<rect x="1631" y="285" width="2" height="1" fill="#000"/>
<text transform="translate(1636.5,288.5) scale(.94,1)" font-size="9.8" fill="#000" stroke="#000" stroke-width=".1" text-anchor="start">107.430</text>
<rect x="1631" y="318" width="2" height="1" fill="#000"/>
<text transform="translate(1636.5,321.5) scale(.94,1)" font-size="9.8" fill="#000" stroke="#000" stroke-width=".1" text-anchor="start">107.155</text>
<rect x="1631" y="351" width="2" height="1" fill="#000"/>
<text transform="translate(1636.5,354.5) scale(.94,1)" font-size="9.8" fill="#000" stroke="#000" stroke-width=".1" text-anchor="start">106.880</text>
<rect x="1631" y="384" width="2" height="1" fill="#000"/>
<text transform="translate(1636.5,387.5) scale(.94,1)" font-size="9.8" fill="#000" stroke="#000" stroke-width=".1" text-anchor="start">106.600</text>
<rect x="1631" y="417" width="2" height="1" fill="#000"/>
<text transform="translate(1636.5,420.5) scale(.94,1)" font-size="9.8" fill="#000" stroke="#000" stroke-width=".1" text-anchor="start">106.325</text>
<rect x="1631" y="450" width="2" height="1" fill="#000"/>
<text transform="translate(1636.5,453.5) scale(.94,1)" font-size="9.8" fill="#000" stroke="#000" stroke-width=".1" text-anchor="start">106.050</text>
<rect x="1631" y="483" width="2" height="1" fill="#000"/>
<text transform="translate(1636.5,486.5) scale(.94,1)" font-size="9.8" fill="#000" stroke="#000" stroke-width=".1" text-anchor="start">105.775</text>
<rect x="1631" y="516" width="2" height="1" fill="#000"/>
<text transform="translate(1636.5,519.5) scale(.94,1)" font-size="9.8" fill="#000" stroke="#000" stroke-width=".1" text-anchor="start">105.500</text>
<rect x="1631" y="549" width="2" height="1" fill="#000"/>
<text transform="translate(1636.5,552.5) scale(.94,1)" font-size="9.8" fill="#000" stroke="#000" stroke-width=".1" text-anchor="start">105.225</text>
<rect x="1631" y="582" width="2" height="1" fill="#000"/>
<text transform="translate(1636.5,585.5) scale(.94,1)" font-size="9.8" fill="#000" stroke="#000" stroke-width=".1" text-anchor="start">104.950</text>
<rect x="1632" y="347" width="41" height="10" fill="#ff0000"/>
<text transform="translate(1636,355) scale(.94,1)" font-size="9.8" fill="#fff" stroke="#fff" stroke-width=".1" text-anchor="start">106.872</text>
<rect x="1632" y="373" width="41" height="10" fill="#ff0000"/>
<text transform="translate(1636,381) scale(.94,1)" font-size="9.8" fill="#fff" stroke="#fff" stroke-width=".1" text-anchor="start">106.655</text>
<rect x="1632" y="399" width="41" height="10" fill="#32cd32"/>
<text transform="translate(1636,407) scale(.94,1)" font-size="9.8" fill="#fff" stroke="#fff" stroke-width=".1" text-anchor="start">106.438</text>
<rect x="1632" y="422" width="41" height="10" fill="#000"/>
<text transform="translate(1636,430) scale(.94,1)" font-size="9.8" fill="#fff" stroke="#fff" stroke-width=".1" text-anchor="start">106.251</text>
<rect x="1632" y="447" width="41" height="10" fill="#0000ff"/>
<text transform="translate(1636,455) scale(.94,1)" font-size="9.8" fill="#fff" stroke="#fff" stroke-width=".1" text-anchor="start">106.038</text>
<rect x="1632" y="472" width="41" height="10" fill="#0000ff"/>
<text transform="translate(1636,480) scale(.94,1)" font-size="9.8" fill="#fff" stroke="#fff" stroke-width=".1" text-anchor="start">105.830</text>
<polygon points="5,43 12,43 8.5,39" fill="#000"/>
<text transform="translate(17,44) scale(.94,1)" font-size="9.9" fill="#000" stroke="#000" stroke-width=".1" text-anchor="start">USDJPY-,H4&#160;&#160;106.241 106.256 106.240 106.251</text>
<text transform="translate(6,600) scale(.94,1)" font-size="10.01" fill="#000" stroke="#000" stroke-width=".1" text-anchor="start">MACD(12,26,9) 0.0546 0.1164</text>
<rect x="2" y="605" width="1" height="34" fill="#c0c0c0"/>
<rect x="10" y="612" width="1" height="27" fill="#c0c0c0"/>
<rect x="18" y="619" width="1" height="20" fill="#c0c0c0"/>
<rect x="26" y="631" width="1" height="8" fill="#c0c0c0"/>
<rect x="34" y="638" width="1" height="1" fill="#c0c0c0"/>
<rect x="42" y="638" width="1" height="3" fill="#c0c0c0"/>
<rect x="50" y="638" width="1" height="6" fill="#c0c0c0"/>
<rect x="58" y="638" width="1" height="4" fill="#c0c0c0"/>
<rect x="66" y="638" width="1" height="1" fill="#c0c0c0"/>
<rect x="74" y="638" width="1" height="1" fill="#c0c0c0"/>
<rect x="82" y="638" width="1" height="2" fill="#c0c0c0"/>
<rect x="90" y="638" width="1" height="3" fill="#c0c0c0"/>
<rect x="98" y="638" width="1" height="8" fill="#c0c0c0"/>
<rect x="106" y="638" width="1" height="16" fill="#c0c0c0"/>
<rect x="114" y="638" width="1" height="21" fill="#c0c0c0"/>
<rect x="122" y="638" width="1" height="22" fill="#c0c0c0"/>
<rect x="130" y="638" width="1" height="23" fill="#c0c0c0"/>
<rect x="138" y="638" width="1" height="24" fill="#c0c0c0"/>
<rect x="146" y="638" width="1" height="25" fill="#c0c0c0"/>
<rect x="154" y="638" width="1" height="25" fill="#c0c0c0"/>
<rect x="162" y="638" width="1" height="25" fill="#c0c0c0"/>
<rect x="170" y="638" width="1" height="24" fill="#c0c0c0"/>
<rect x="178" y="638" width="1" height="22" fill="#c0c0c0"/>
<rect x="186" y="638" width="1" height="22" fill="#c0c0c0"/>
<rect x="194" y="638" width="1" height="14" fill="#c0c0c0"/>
<rect x="202" y="638" width="1" height="10" fill="#c0c0c0"/>
<rect x="210" y="638" width="1" height="8" fill="#c0c0c0"/>
<rect x="218" y="638" width="1" height="7" fill="#c0c0c0"/>
<rect x="226" y="638" width="1" height="4" fill="#c0c0c0"/>
<rect x="234" y="638" width="1" height="2" fill="#c0c0c0"/>
<rect x="242" y="638" width="1" height="3" fill="#c0c0c0"/>
<rect x="250" y="638" width="1" height="3" fill="#c0c0c0"/>
<rect x="258" y="638" width="1" height="7" fill="#c0c0c0"/>
<rect x="266" y="638" width="1" height="12" fill="#c0c0c0"/>
<rect x="274" y="638" width="1" height="15" fill="#c0c0c0"/>
<rect x="282" y="638" width="1" height="16" fill="#c0c0c0"/>
<rect x="290" y="638" width="1" height="19" fill="#c0c0c0"/>
<rect x="298" y="638" width="1" height="27" fill="#c0c0c0"/>
<rect x="306" y="638" width="1" height="31" fill="#c0c0c0"/>
<rect x="314" y="638" width="1" height="32" fill="#c0c0c0"/>
<rect x="322" y="638" width="1" height="31" fill="#c0c0c0"/>
<rect x="330" y="638" width="1" height="29" fill="#c0c0c0"/>
<rect x="338" y="638" width="1" height="26" fill="#c0c0c0"/>
<rect x="346" y="638" width="1" height="23" fill="#c0c0c0"/>
<rect x="354" y="638" width="1" height="20" fill="#c0c0c0"/>
<rect x="362" y="638" width="1" height="16" fill="#c0c0c0"/>
<rect x="370" y="638" width="1" height="13" fill="#c0c0c0"/>
<rect x="378" y="638" width="1" height="10" fill="#c0c0c0"/>
<rect x="386" y="638" width="1" height="8" fill="#c0c0c0"/>
<rect x="394" y="638" width="1" height="7" fill="#c0c0c0"/>
<rect x="402" y="638" width="1" height="5" fill="#c0c0c0"/>
<rect x="410" y="638" width="1" height="2" fill="#c0c0c0"/>
<rect x="418" y="638" width="1" height="1" fill="#c0c0c0"/>
<rect x="426" y="635" width="1" height="4" fill="#c0c0c0"/>
<rect x="434" y="633" width="1" height="6" fill="#c0c0c0"/>
<rect x="442" y="630" width="1" height="9" fill="#c0c0c0"/>
<rect x="450" y="627" width="1" height="12" fill="#c0c0c0"/>
<rect x="458" y="626" width="1" height="13" fill="#c0c0c0"/>
<rect x="466" y="627" width="1" height="12" fill="#c0c0c0"/>
<rect x="474" y="628" width="1" height="11" fill="#c0c0c0"/>
<rect x="482" y="629" width="1" height="10" fill="#c0c0c0"/>
<rect x="490" y="627" width="1" height="12" fill="#c0c0c0"/>
<rect x="498" y="626" width="1" height="13" fill="#c0c0c0"/>
<rect x="506" y="626" width="1" height="13" fill="#c0c0c0"/>
<rect x="514" y="628" width="1" height="11" fill="#c0c0c0"/>
<rect x="522" y="629" width="1" height="10" fill="#c0c0c0"/>
<rect x="530" y="622" width="1" height="17" fill="#c0c0c0"/>
<rect x="538" y="616" width="1" height="23" fill="#c0c0c0"/>
<rect x="546" y="612" width="1" height="27" fill="#c0c0c0"/>
<rect x="554" y="610" width="1" height="29" fill="#c0c0c0"/>
<rect x="562" y="608" width="1" height="31" fill="#c0c0c0"/>
<rect x="570" y="607" width="1" height="32" fill="#c0c0c0"/>
<rect x="578" y="606" width="1" height="33" fill="#c0c0c0"/>
<rect x="586" y="605" width="1" height="34" fill="#c0c0c0"/>
<rect x="594" y="606" width="1" height="33" fill="#c0c0c0"/>
<rect x="602" y="608" width="1" height="31" fill="#c0c0c0"/>
<rect x="610" y="609" width="1" height="30" fill="#c0c0c0"/>
<rect x="618" y="610" width="1" height="29" fill="#c0c0c0"/>
<rect x="626" y="608" width="1" height="31" fill="#c0c0c0"/>
<rect x="634" y="608" width="1" height="31" fill="#c0c0c0"/>
<rect x="642" y="607" width="1" height="32" fill="#c0c0c0"/>
<rect x="650" y="610" width="1" height="29" fill="#c0c0c0"/>
<rect x="658" y="612" width="1" height="27" fill="#c0c0c0"/>
<rect x="666" y="617" width="1" height="22" fill="#c0c0c0"/>
<rect x="674" y="618" width="1" height="21" fill="#c0c0c0"/>
<rect x="682" y="620" width="1" height="19" fill="#c0c0c0"/>
<rect x="690" y="623" width="1" height="16" fill="#c0c0c0"/>
<rect x="698" y="625" width="1" height="14" fill="#c0c0c0"/>
<rect x="706" y="626" width="1" height="13" fill="#c0c0c0"/>
<rect x="714" y="628" width="1" height="11" fill="#c0c0c0"/>
<rect x="722" y="629" width="1" height="10" fill="#c0c0c0"/>
<rect x="730" y="627" width="1" height="12" fill="#c0c0c0"/>
<rect x="738" y="625" width="1" height="14" fill="#c0c0c0"/>
<rect x="746" y="618" width="1" height="21" fill="#c0c0c0"/>
<rect x="754" y="614" width="1" height="25" fill="#c0c0c0"/>
<rect x="762" y="614" width="1" height="25" fill="#c0c0c0"/>
<rect x="770" y="623" width="1" height="16" fill="#c0c0c0"/>
<rect x="778" y="638" width="1" height="6" fill="#c0c0c0"/>
<rect x="786" y="638" width="1" height="21" fill="#c0c0c0"/>
<rect x="794" y="638" width="1" height="38" fill="#c0c0c0"/>
<rect x="802" y="638" width="1" height="53" fill="#c0c0c0"/>
<rect x="810" y="638" width="1" height="65" fill="#c0c0c0"/>
<rect x="818" y="638" width="1" height="77" fill="#c0c0c0"/>
<rect x="826" y="638" width="1" height="86" fill="#c0c0c0"/>
<rect x="834" y="638" width="1" height="92" fill="#c0c0c0"/>
<rect x="842" y="638" width="1" height="104" fill="#c0c0c0"/>
<rect x="850" y="638" width="1" height="113" fill="#c0c0c0"/>
<rect x="858" y="638" width="1" height="117" fill="#c0c0c0"/>
<rect x="866" y="638" width="1" height="118" fill="#c0c0c0"/>
<rect x="874" y="638" width="1" height="118" fill="#c0c0c0"/>
<rect x="882" y="638" width="1" height="123" fill="#c0c0c0"/>
<rect x="890" y="638" width="1" height="113" fill="#c0c0c0"/>
<rect x="898" y="638" width="1" height="106" fill="#c0c0c0"/>
<rect x="906" y="638" width="1" height="97" fill="#c0c0c0"/>
<rect x="914" y="638" width="1" height="90" fill="#c0c0c0"/>
<rect x="922" y="638" width="1" height="82" fill="#c0c0c0"/>
<rect x="930" y="638" width="1" height="78" fill="#c0c0c0"/>
<rect x="938" y="638" width="1" height="78" fill="#c0c0c0"/>
<rect x="946" y="638" width="1" height="73" fill="#c0c0c0"/>
<rect x="954" y="638" width="1" height="75" fill="#c0c0c0"/>
<rect x="962" y="638" width="1" height="79" fill="#c0c0c0"/>
<rect x="970" y="638" width="1" height="73" fill="#c0c0c0"/>
<rect x="978" y="638" width="1" height="68" fill="#c0c0c0"/>
<rect x="986" y="638" width="1" height="63" fill="#c0c0c0"/>
<rect x="994" y="638" width="1" height="58" fill="#c0c0c0"/>
<rect x="1002" y="638" width="1" height="57" fill="#c0c0c0"/>
<rect x="1010" y="638" width="1" height="55" fill="#c0c0c0"/>
<rect x="1018" y="638" width="1" height="53" fill="#c0c0c0"/>
<rect x="1026" y="638" width="1" height="52" fill="#c0c0c0"/>
<rect x="1034" y="638" width="1" height="49" fill="#c0c0c0"/>
<rect x="1042" y="638" width="1" height="47" fill="#c0c0c0"/>
<rect x="1050" y="638" width="1" height="48" fill="#c0c0c0"/>
<rect x="1058" y="638" width="1" height="52" fill="#c0c0c0"/>
<rect x="1066" y="638" width="1" height="54" fill="#c0c0c0"/>
<rect x="1074" y="638" width="1" height="57" fill="#c0c0c0"/>
<rect x="1082" y="638" width="1" height="57" fill="#c0c0c0"/>
<rect x="1090" y="638" width="1" height="57" fill="#c0c0c0"/>
<rect x="1098" y="638" width="1" height="60" fill="#c0c0c0"/>
<rect x="1106" y="638" width="1" height="59" fill="#c0c0c0"/>
<rect x="1114" y="638" width="1" height="58" fill="#c0c0c0"/>
<rect x="1122" y="638" width="1" height="56" fill="#c0c0c0"/>
<rect x="1130" y="638" width="1" height="52" fill="#c0c0c0"/>
<rect x="1138" y="638" width="1" height="53" fill="#c0c0c0"/>
<rect x="1146" y="638" width="1" height="53" fill="#c0c0c0"/>
<rect x="1154" y="638" width="1" height="32" fill="#c0c0c0"/>
<rect x="1162" y="638" width="1" height="14" fill="#c0c0c0"/>
<rect x="1170" y="638" width="1" height="1" fill="#c0c0c0"/>
<rect x="1178" y="633" width="1" height="6" fill="#c0c0c0"/>
<rect x="1186" y="627" width="1" height="12" fill="#c0c0c0"/>
<rect x="1194" y="630" width="1" height="9" fill="#c0c0c0"/>
<rect x="1202" y="634" width="1" height="5" fill="#c0c0c0"/>
<rect x="1210" y="634" width="1" height="5" fill="#c0c0c0"/>
<rect x="1218" y="636" width="1" height="3" fill="#c0c0c0"/>
<rect x="1226" y="636" width="1" height="3" fill="#c0c0c0"/>
<rect x="1234" y="634" width="1" height="5" fill="#c0c0c0"/>
<rect x="1242" y="633" width="1" height="6" fill="#c0c0c0"/>
<rect x="1250" y="632" width="1" height="7" fill="#c0c0c0"/>
<rect x="1258" y="632" width="1" height="7" fill="#c0c0c0"/>
<rect x="1266" y="632" width="1" height="7" fill="#c0c0c0"/>
<rect x="1274" y="630" width="1" height="9" fill="#c0c0c0"/>
<rect x="1282" y="629" width="1" height="10" fill="#c0c0c0"/>
<rect x="1290" y="627" width="1" height="12" fill="#c0c0c0"/>
<rect x="1298" y="624" width="1" height="15" fill="#c0c0c0"/>
<rect x="1306" y="623" width="1" height="16" fill="#c0c0c0"/>
<rect x="1314" y="621" width="1" height="18" fill="#c0c0c0"/>
<rect x="1322" y="621" width="1" height="18" fill="#c0c0c0"/>
<rect x="1330" y="619" width="1" height="20" fill="#c0c0c0"/>
<rect x="1338" y="615" width="1" height="24" fill="#c0c0c0"/>
<rect x="1346" y="615" width="1" height="24" fill="#c0c0c0"/>
<rect x="1354" y="612" width="1" height="27" fill="#c0c0c0"/>
<rect x="1362" y="611" width="1" height="28" fill="#c0c0c0"/>
<rect x="1370" y="611" width="1" height="28" fill="#c0c0c0"/>
<rect x="1378" y="613" width="1" height="26" fill="#c0c0c0"/>
<rect x="1386" y="616" width="1" height="23" fill="#c0c0c0"/>
<rect x="1394" y="619" width="1" height="20" fill="#c0c0c0"/>
<rect x="1402" y="623" width="1" height="16" fill="#c0c0c0"/>
<rect x="1410" y="627" width="1" height="12" fill="#c0c0c0"/>
<rect x="1418" y="629" width="1" height="10" fill="#c0c0c0"/>
<path fill="#ff0000" d="M2 597h3v1h-3zM8 597h1v1h-1zM9 598h2v1h-2zM14 598h3v1h-3zM20 600h1v1h-1zM21 601h2v1h-2zM26 603h1v1h-1zM27 604h2v1h-2zM32 606h1v1h-1zM614 606h3v1h-3zM620 606h3v1h-3zM626 606h3v1h-3zM632 606h3v1h-3zM638 606h3v1h-3zM644 606h3v1h-3zM33 607h2v1h-2zM604 607h1v1h-1zM608 607h3v1h-3zM650 607h3v1h-3zM656 607h1v1h-1zM598 608h1v1h-1zM602 608h2v1h-2zM657 608h2v1h-2zM662 608h2v1h-2zM596 609h2v1h-2zM664 609h1v1h-1zM668 609h3v1h-3zM38 610h1v1h-1zM590 610h3v1h-3zM674 610h3v1h-3zM39 611h1v1h-1zM586 611h1v1h-1zM680 611h3v1h-3zM40 612h1v1h-1zM584 612h2v1h-2zM686 612h3v1h-3zM692 613h3v1h-3zM579 614h2v1h-2zM698 614h3v1h-3zM1379 614h3v1h-3zM1385 614h3v1h-3zM1391 614h3v1h-3zM1397 614h3v1h-3zM1403 614h3v1h-3zM1409 614h3v1h-3zM44 615h1v1h-1zM578 615h1v1h-1zM704 615h1v1h-1zM1369 615h1v1h-1zM1373 615h3v1h-3zM1415 615h1v1h-1zM45 616h1v1h-1zM572 616h3v1h-3zM705 616h2v1h-2zM1367 616h2v1h-2zM1416 616h1v1h-1zM46 617h1v1h-1zM568 617h1v1h-1zM1361 617h3v1h-3zM1417 617h1v1h-1zM566 618h2v1h-2zM710 618h3v1h-3zM1355 618h3v1h-3zM561 619h2v1h-2zM716 619h1v1h-1zM1349 619h3v1h-3zM50 620h1v1h-1zM560 620h1v1h-1zM717 620h2v1h-2zM1344 620h2v1h-2zM51 621h2v1h-2zM554 621h3v1h-3zM722 621h3v1h-3zM1343 621h1v1h-1zM549 622h2v1h-2zM728 622h3v1h-3zM758 622h3v1h-3zM764 622h3v1h-3zM770 622h3v1h-3zM1339 622h1v1h-1zM56 623h1v1h-1zM548 623h1v1h-1zM734 623h2v1h-2zM746 623h3v1h-3zM752 623h3v1h-3zM776 623h1v1h-1zM1333 623h1v1h-1zM1337 623h2v1h-2zM57 624h1v1h-1zM542 624h3v1h-3zM736 624h1v1h-1zM740 624h3v1h-3zM777 624h2v1h-2zM1325 624h3v1h-3zM1331 624h2v1h-2zM58 625h1v1h-1zM536 625h3v1h-3zM1319 625h3v1h-3zM506 626h3v1h-3zM512 626h3v1h-3zM518 626h3v1h-3zM524 626h3v1h-3zM530 626h3v1h-3zM782 626h2v1h-2zM1313 626h3v1h-3zM62 627h1v1h-1zM496 627h1v1h-1zM500 627h3v1h-3zM784 627h1v1h-1zM1307 627h3v1h-3zM63 628h2v1h-2zM488 628h3v1h-3zM494 628h2v1h-2zM1301 628h3v1h-3zM482 629h3v1h-3zM788 629h2v1h-2zM1295 629h3v1h-3zM68 630h1v1h-1zM476 630h3v1h-3zM790 630h1v1h-1zM1289 630h3v1h-3zM69 631h2v1h-2zM470 631h3v1h-3zM1283 631h3v1h-3zM464 632h3v1h-3zM794 632h1v1h-1zM1236 632h2v1h-2zM1241 632h3v1h-3zM1247 632h3v1h-3zM1253 632h3v1h-3zM1259 632h3v1h-3zM1265 632h3v1h-3zM1271 632h3v1h-3zM1277 632h3v1h-3zM74 633h1v1h-1zM795 633h1v1h-1zM1235 633h1v1h-1zM75 634h2v1h-2zM459 634h2v1h-2zM796 634h1v1h-1zM1229 634h3v1h-3zM458 635h1v1h-1zM80 636h2v1h-2zM452 636h3v1h-3zM1224 636h2v1h-2zM82 637h1v1h-1zM448 637h1v1h-1zM800 637h1v1h-1zM1223 637h1v1h-1zM446 638h2v1h-2zM801 638h1v1h-1zM86 639h3v1h-3zM442 639h1v1h-1zM802 639h1v1h-1zM1218 639h2v1h-2zM440 640h2v1h-2zM1217 640h1v1h-1zM92 641h3v1h-3zM98 642h1v1h-1zM434 642h3v1h-3zM1213 642h1v1h-1zM99 643h2v1h-2zM104 643h3v1h-3zM429 643h2v1h-2zM805 643h1v1h-1zM1211 643h2v1h-2zM110 644h3v1h-3zM262 644h1v1h-1zM266 644h3v1h-3zM428 644h1v1h-1zM806 644h1v2h-1zM116 645h3v1h-3zM254 645h3v1h-3zM260 645h2v1h-2zM272 645h3v1h-3zM278 645h1v1h-1zM422 645h3v1h-3zM122 646h1v1h-1zM249 646h2v1h-2zM279 646h2v1h-2zM284 646h3v1h-3zM1207 646h1v1h-1zM123 647h2v1h-2zM248 647h1v1h-1zM290 647h2v1h-2zM417 647h2v1h-2zM1206 647h1v1h-1zM128 648h1v1h-1zM242 648h3v1h-3zM292 648h1v1h-1zM416 648h1v1h-1zM1205 648h1v1h-1zM129 649h2v1h-2zM237 649h2v1h-2zM296 649h2v1h-2zM412 649h1v1h-1zM809 649h1v1h-1zM236 650h1v1h-1zM298 650h1v1h-1zM410 650h2v1h-2zM810 650h1v1h-1zM1201 650h1v1h-1zM134 651h2v1h-2zM230 651h3v1h-3zM302 651h2v1h-2zM404 651h3v1h-3zM811 651h1v1h-1zM1200 651h1v1h-1zM136 652h1v1h-1zM226 652h1v1h-1zM304 652h1v1h-1zM399 652h2v1h-2zM1199 652h1v1h-1zM140 653h2v1h-2zM224 653h2v1h-2zM308 653h1v1h-1zM398 653h1v1h-1zM142 654h1v1h-1zM219 654h2v1h-2zM309 654h2v1h-2zM146 655h2v1h-2zM218 655h1v1h-1zM314 655h1v1h-1zM392 655h3v1h-3zM814 655h1v1h-1zM148 656h1v1h-1zM212 656h3v1h-3zM315 656h2v1h-2zM815 656h1v1h-1zM1194 656h2v1h-2zM152 657h3v1h-3zM207 657h2v1h-2zM386 657h3v1h-3zM816 657h1v1h-1zM1193 657h1v1h-1zM158 658h1v1h-1zM201 658h2v1h-2zM206 658h1v1h-1zM320 658h2v1h-2zM382 658h1v1h-1zM159 659h2v1h-2zM194 659h3v1h-3zM200 659h1v1h-1zM322 659h1v1h-1zM380 659h2v1h-2zM164 660h3v1h-3zM170 660h1v1h-1zM182 660h3v1h-3zM188 660h3v1h-3zM326 660h3v1h-3zM374 660h3v1h-3zM171 661h2v1h-2zM176 661h3v1h-3zM332 661h1v1h-1zM370 661h1v1h-1zM819 661h1v1h-1zM1189 661h1v1h-1zM333 662h2v1h-2zM368 662h2v1h-2zM820 662h1v1h-1zM1188 662h1v1h-1zM338 663h3v1h-3zM344 663h1v1h-1zM357 663h2v1h-2zM362 663h3v1h-3zM821 663h1v1h-1zM1187 663h1v1h-1zM345 664h2v1h-2zM350 664h3v1h-3zM356 664h1v1h-1zM824 667h1v1h-1zM1183 667h1v1h-1zM825 668h1v1h-1zM1182 668h1v1h-1zM826 669h1v1h-1zM1181 669h1v1h-1zM828 673h1v2h-1zM1177 673h1v1h-1zM1176 674h1v1h-1zM829 675h1v1h-1zM1175 675h1v1h-1zM831 679h1v1h-1zM1171 679h1v1h-1zM832 680h1v2h-1zM1170 680h1v1h-1zM1169 681h1v1h-1zM1165 684h1v1h-1zM834 685h1v1h-1zM1164 685h1v1h-1zM835 686h1v1h-1zM1163 686h1v1h-1zM836 687h1v1h-1zM1159 688h1v1h-1zM1157 689h2v1h-2zM1061 690h3v1h-3zM1067 690h3v1h-3zM1073 690h3v1h-3zM1079 690h3v1h-3zM838 691h1v1h-1zM1055 691h3v1h-3zM1085 691h3v1h-3zM1091 691h3v1h-3zM1152 691h2v1h-2zM839 692h1v2h-1zM1049 692h3v1h-3zM1097 692h3v1h-3zM1103 692h1v1h-1zM1151 692h1v1h-1zM1044 693h2v1h-2zM1104 693h2v1h-2zM1109 693h1v1h-1zM1146 693h2v1h-2zM1043 694h1v1h-1zM1110 694h2v1h-2zM1115 694h3v1h-3zM1145 694h1v1h-1zM1037 695h3v1h-3zM1121 695h3v1h-3zM1127 695h3v1h-3zM1133 695h3v1h-3zM1139 695h3v1h-3zM842 697h1v2h-1zM1031 697h3v1h-3zM843 699h1v1h-1zM1026 699h2v1h-2zM1025 700h1v1h-1zM1019 702h3v1h-3zM846 703h1v2h-1zM1014 704h2v1h-2zM847 705h1v1h-1zM1013 705h1v1h-1zM1007 706h3v1h-3zM1001 708h3v1h-3zM849 709h1v1h-1zM997 709h1v1h-1zM850 710h1v1h-1zM995 710h2v1h-2zM851 711h1v1h-1zM989 711h3v1h-3zM983 713h3v1h-3zM854 715h1v1h-1zM977 715h3v1h-3zM855 716h1v1h-1zM856 717h1v1h-1zM972 717h2v1h-2zM971 718h1v1h-1zM966 719h2v1h-2zM965 720h1v1h-1zM859 721h1v2h-1zM960 722h2v1h-2zM860 723h1v1h-1zM959 723h1v1h-1zM954 726h2v1h-2zM863 727h1v1h-1zM953 727h1v1h-1zM864 728h1v1h-1zM865 729h1v1h-1zM948 730h2v1h-2zM947 731h1v1h-1zM869 733h1v1h-1zM942 733h2v1h-2zM870 734h2v1h-2zM941 734h1v1h-1zM937 736h1v1h-1zM935 737h2v1h-2zM875 738h1v1h-1zM876 739h1v1h-1zM877 740h1v1h-1zM931 740h1v1h-1zM929 741h2v1h-2zM881 743h2v1h-2zM883 744h1v1h-1zM925 744h1v1h-1zM923 745h2v1h-2zM887 747h3v1h-3zM919 747h1v1h-1zM893 748h1v1h-1zM917 748h2v1h-2zM894 749h2v1h-2zM899 749h2v1h-2zM911 749h3v1h-3zM901 750h1v1h-1zM905 750h3v1h-3z"/>
<rect x="1631" y="589" width="1" height="1" fill="#000"/>
<text transform="translate(1634,597.5) scale(.94,1)" font-size="9.8" fill="#000" stroke="#000" stroke-width=".1" text-anchor="start">0.2752</text>
<rect x="1631" y="638" width="2" height="1" fill="#000"/>
<text transform="translate(1634,641.5) scale(.94,1)" font-size="9.8" fill="#000" stroke="#000" stroke-width=".1" text-anchor="start">0.00</text>
<rect x="1631" y="769" width="1" height="1" fill="#000"/>
<text transform="translate(1634,767.0) scale(.94,1)" font-size="9.8" fill="#000" stroke="#000" stroke-width=".1" text-anchor="start">-0.7362</text>
<rect x="1631" y="774" width="1" height="1" fill="#000"/>
<text transform="translate(6,784) scale(.94,1)" font-size="9.8" fill="#000" stroke="#000" stroke-width=".1" text-anchor="start">RSI(14) 48.8941</text>
<line x1="3" y1="805.5" x2="1630" y2="805.5" stroke="#c0c0c0" stroke-width="1" stroke-dasharray="3 3"/>
<line x1="3" y1="852.5" x2="1630" y2="852.5" stroke="#c0c0c0" stroke-width="1" stroke-dasharray="3 3"/>
<line x1="3" y1="908.5" x2="1630" y2="908.5" stroke="#c0c0c0" stroke-width="1" stroke-dasharray="3 3"/>
<path fill="#1e90ff" d="M746 814h1v2h-1zM747 815h1v1h-1zM745 816h1v2h-1zM748 816h1v1h-1zM749 817h1v1h-1zM538 818h2v1h-2zM744 818h1v2h-1zM750 818h1v2h-1zM536 819h2v1h-2zM540 819h3v1h-3zM535 820h1v1h-1zM543 820h2v1h-2zM743 820h1v2h-1zM751 820h1v1h-1zM533 821h2v1h-2zM545 821h2v1h-2zM752 821h1v1h-1zM531 822h2v1h-2zM547 822h2v1h-2zM626 822h1v1h-1zM742 822h1v3h-1zM753 822h1v1h-1zM530 823h1v2h-1zM549 823h1v1h-1zM575 823h12v1h-12zM625 823h1v2h-1zM627 823h2v1h-2zM754 823h1v2h-1zM550 824h1v1h-1zM569 824h6v1h-6zM587 824h1v1h-1zM629 824h1v1h-1zM529 825h1v3h-1zM551 825h2v1h-2zM565 825h4v1h-4zM588 825h1v1h-1zM624 825h1v1h-1zM630 825h1v1h-1zM641 825h2v1h-2zM741 825h1v2h-1zM755 825h1v2h-1zM553 826h1v1h-1zM559 826h6v1h-6zM589 826h2v1h-2zM623 826h1v1h-1zM631 826h2v1h-2zM639 826h2v1h-2zM642 826h1v1h-1zM554 827h5v1h-5zM591 827h1v1h-1zM622 827h1v2h-1zM633 827h1v1h-1zM636 827h3v1h-3zM643 827h1v2h-1zM740 827h1v2h-1zM756 827h1v2h-1zM528 828h1v3h-1zM592 828h1v1h-1zM634 828h2v1h-2zM593 829h1v1h-1zM621 829h1v1h-1zM644 829h1v2h-1zM739 829h1v2h-1zM757 829h1v2h-1zM594 830h1v1h-1zM620 830h1v1h-1zM527 831h1v3h-1zM595 831h1v1h-1zM619 831h1v2h-1zM645 831h1v2h-1zM738 831h1v2h-1zM758 831h1v2h-1zM596 832h1v1h-1zM610 832h5v1h-5zM737 832h1v1h-1zM1159 832h5v1h-5zM442 833h5v1h-5zM597 833h1v1h-1zM609 833h1v1h-1zM615 833h4v1h-4zM646 833h1v3h-1zM733 833h4v1h-4zM759 833h1v2h-1zM1154 833h5v1h-5zM1164 833h3v1h-3zM441 834h1v1h-1zM447 834h5v1h-5zM526 834h1v2h-1zM598 834h1v1h-1zM607 834h2v1h-2zM730 834h3v1h-3zM1154 834h1v2h-1zM1167 834h2v1h-2zM1338 834h2v1h-2zM440 835h1v2h-1zM452 835h2v1h-2zM599 835h1v1h-1zM606 835h1v1h-1zM729 835h1v2h-1zM760 835h1v2h-1zM1169 835h2v1h-2zM1337 835h1v1h-1zM1340 835h2v1h-2zM1353 835h3v1h-3zM454 836h2v1h-2zM525 836h1v3h-1zM600 836h1v1h-1zM605 836h1v1h-1zM647 836h1v2h-1zM1153 836h1v5h-1zM1171 836h1v1h-1zM1335 836h2v1h-2zM1342 836h2v1h-2zM1351 836h2v1h-2zM1356 836h2v1h-2zM439 837h1v1h-1zM456 837h2v1h-2zM601 837h1v1h-1zM603 837h2v1h-2zM728 837h1v2h-1zM761 837h1v2h-1zM1172 837h1v1h-1zM1334 837h1v1h-1zM1344 837h2v1h-2zM1348 837h3v1h-3zM1358 837h2v1h-2zM423 838h4v1h-4zM438 838h1v1h-1zM458 838h1v1h-1zM490 838h3v1h-3zM602 838h1v1h-1zM648 838h1v2h-1zM1173 838h2v1h-2zM1333 838h1v1h-1zM1346 838h2v1h-2zM1360 838h2v1h-2zM1367 838h4v1h-4zM417 839h6v1h-6zM427 839h2v1h-2zM437 839h1v1h-1zM459 839h1v2h-1zM489 839h1v1h-1zM493 839h4v1h-4zM524 839h1v3h-1zM727 839h1v2h-1zM762 839h1v3h-1zM1175 839h1v1h-1zM1314 839h2v1h-2zM1331 839h2v1h-2zM1362 839h5v1h-5zM1371 839h2v1h-2zM415 840h2v1h-2zM429 840h2v1h-2zM436 840h1v2h-1zM488 840h1v1h-1zM497 840h4v1h-4zM649 840h1v2h-1zM1176 840h1v1h-1zM1185 840h2v1h-2zM1312 840h2v1h-2zM1316 840h3v1h-3zM1329 840h2v1h-2zM1373 840h1v1h-1zM412 841h3v1h-3zM431 841h1v1h-1zM460 841h1v1h-1zM487 841h1v1h-1zM501 841h4v1h-4zM726 841h1v1h-1zM1152 841h1v4h-1zM1177 841h1v1h-1zM1181 841h4v1h-4zM1187 841h1v2h-1zM1311 841h1v1h-1zM1319 841h2v1h-2zM1325 841h4v1h-4zM1374 841h1v1h-1zM194 842h2v1h-2zM410 842h2v1h-2zM432 842h2v1h-2zM435 842h1v1h-1zM461 842h1v1h-1zM486 842h1v1h-1zM505 842h2v1h-2zM523 842h1v3h-1zM650 842h1v2h-1zM725 842h1v2h-1zM763 842h1v4h-1zM1178 842h3v1h-3zM1297 842h4v1h-4zM1309 842h2v1h-2zM1321 842h4v1h-4zM1375 842h2v1h-2zM194 843h1v1h-1zM196 843h2v1h-2zM409 843h1v1h-1zM434 843h1v1h-1zM462 843h1v2h-1zM485 843h1v1h-1zM507 843h1v1h-1zM651 843h8v1h-8zM674 843h1v1h-1zM1188 843h1v2h-1zM1293 843h4v1h-4zM1301 843h4v1h-4zM1307 843h2v1h-2zM1377 843h1v1h-1zM193 844h1v2h-1zM198 844h2v1h-2zM408 844h1v1h-1zM484 844h1v1h-1zM508 844h1v2h-1zM659 844h1v1h-1zM673 844h1v1h-1zM675 844h2v1h-2zM724 844h1v2h-1zM1290 844h3v1h-3zM1305 844h2v1h-2zM1378 844h1v1h-1zM66 845h1v1h-1zM200 845h2v1h-2zM407 845h1v1h-1zM463 845h1v1h-1zM483 845h1v1h-1zM522 845h1v2h-1zM660 845h1v1h-1zM672 845h1v1h-1zM677 845h2v1h-2zM1151 845h1v5h-1zM1189 845h1v2h-1zM1234 845h2v1h-2zM1288 845h2v1h-2zM1379 845h2v1h-2zM64 846h2v1h-2zM67 846h1v1h-1zM192 846h1v3h-1zM202 846h1v1h-1zM233 846h2v1h-2zM406 846h1v2h-1zM464 846h1v1h-1zM481 846h2v1h-2zM509 846h1v1h-1zM661 846h1v1h-1zM671 846h1v1h-1zM679 846h1v1h-1zM723 846h1v2h-1zM764 846h1v3h-1zM1233 846h1v1h-1zM1236 846h3v1h-3zM1273 846h4v1h-4zM1286 846h2v1h-2zM1381 846h2v1h-2zM63 847h1v1h-1zM68 847h1v2h-1zM203 847h2v1h-2zM229 847h4v1h-4zM235 847h1v2h-1zM465 847h1v2h-1zM477 847h4v1h-4zM510 847h1v1h-1zM521 847h1v1h-1zM662 847h1v2h-1zM670 847h1v2h-1zM680 847h2v1h-2zM1190 847h1v2h-1zM1232 847h1v1h-1zM1239 847h2v1h-2zM1271 847h2v1h-2zM1277 847h4v1h-4zM1284 847h2v1h-2zM1383 847h1v1h-1zM61 848h2v1h-2zM205 848h2v1h-2zM226 848h3v1h-3zM378 848h3v1h-3zM405 848h1v1h-1zM471 848h6v1h-6zM511 848h1v1h-1zM519 848h2v1h-2zM682 848h3v1h-3zM721 848h2v1h-2zM1231 848h1v1h-1zM1241 848h6v1h-6zM1268 848h3v1h-3zM1281 848h3v1h-3zM1384 848h2v1h-2zM59 849h2v1h-2zM69 849h1v1h-1zM191 849h1v3h-1zM207 849h1v1h-1zM224 849h2v1h-2zM236 849h1v1h-1zM362 849h2v1h-2zM376 849h2v1h-2zM381 849h4v1h-4zM404 849h1v1h-1zM466 849h5v1h-5zM512 849h1v2h-1zM518 849h1v1h-1zM663 849h1v1h-1zM669 849h1v1h-1zM685 849h4v1h-4zM717 849h4v1h-4zM765 849h1v4h-1zM1191 849h1v2h-1zM1230 849h1v2h-1zM1247 849h6v1h-6zM1265 849h3v1h-3zM1386 849h5v1h-5zM58 850h1v1h-1zM70 850h1v1h-1zM208 850h2v1h-2zM222 850h2v1h-2zM237 850h1v1h-1zM361 850h1v1h-1zM364 850h2v1h-2zM375 850h1v1h-1zM385 850h3v1h-3zM403 850h1v1h-1zM517 850h1v1h-1zM664 850h1v1h-1zM668 850h1v1h-1zM689 850h28v1h-28zM1150 850h1v5h-1zM1253 850h4v1h-4zM1261 850h4v1h-4zM1391 850h4v1h-4zM57 851h1v1h-1zM71 851h1v1h-1zM210 851h5v1h-5zM220 851h2v1h-2zM238 851h1v2h-1zM359 851h2v1h-2zM366 851h2v1h-2zM373 851h2v1h-2zM388 851h3v1h-3zM401 851h2v1h-2zM513 851h1v1h-1zM515 851h2v1h-2zM665 851h1v1h-1zM667 851h1v1h-1zM1192 851h1v2h-1zM1229 851h1v1h-1zM1257 851h4v1h-4zM1395 851h1v1h-1zM56 852h1v1h-1zM72 852h1v2h-1zM190 852h1v2h-1zM215 852h5v1h-5zM358 852h1v1h-1zM368 852h2v1h-2zM371 852h2v1h-2zM391 852h2v1h-2zM397 852h4v1h-4zM514 852h1v1h-1zM666 852h1v1h-1zM1210 852h3v1h-3zM1228 852h1v1h-1zM1396 852h1v1h-1zM55 853h1v1h-1zM239 853h1v1h-1zM357 853h1v1h-1zM370 853h1v1h-1zM393 853h4v1h-4zM766 853h1v3h-1zM1193 853h1v2h-1zM1208 853h2v1h-2zM1213 853h4v1h-4zM1227 853h1v1h-1zM1397 853h2v1h-2zM53 854h2v1h-2zM73 854h1v1h-1zM189 854h1v3h-1zM240 854h1v1h-1zM355 854h2v1h-2zM1207 854h1v1h-1zM1217 854h10v1h-10zM1399 854h1v1h-1zM1415 854h4v1h-4zM52 855h1v1h-1zM74 855h10v1h-10zM241 855h1v2h-1zM351 855h4v1h-4zM1149 855h1v5h-1zM1194 855h3v1h-3zM1205 855h2v1h-2zM1400 855h1v1h-1zM1409 855h6v1h-6zM51 856h1v1h-1zM84 856h2v1h-2zM345 856h6v1h-6zM767 856h1v4h-1zM1197 856h4v1h-4zM1203 856h2v1h-2zM1401 856h1v1h-1zM1405 856h4v1h-4zM50 857h1v1h-1zM86 857h2v1h-2zM188 857h1v3h-1zM242 857h3v1h-3zM341 857h4v1h-4zM1201 857h2v1h-2zM1402 857h3v1h-3zM2 858h5v1h-5zM49 858h1v2h-1zM88 858h2v1h-2zM178 858h1v1h-1zM245 858h4v1h-4zM338 858h3v1h-3zM7 859h4v1h-4zM90 859h1v1h-1zM176 859h2v1h-2zM179 859h2v1h-2zM249 859h2v1h-2zM337 859h1v1h-1zM11 860h2v1h-2zM48 860h1v1h-1zM91 860h1v2h-1zM175 860h1v1h-1zM181 860h2v1h-2zM187 860h1v2h-1zM251 860h1v1h-1zM336 860h1v1h-1zM768 860h1v3h-1zM986 860h2v1h-2zM1148 860h1v4h-1zM13 861h2v1h-2zM47 861h1v2h-1zM173 861h2v1h-2zM183 861h1v1h-1zM252 861h1v1h-1zM335 861h1v1h-1zM984 861h2v1h-2zM988 861h2v1h-2zM15 862h1v1h-1zM92 862h1v1h-1zM171 862h2v1h-2zM184 862h3v1h-3zM253 862h2v1h-2zM333 862h2v1h-2zM970 862h3v1h-3zM982 862h2v1h-2zM990 862h2v1h-2zM16 863h2v1h-2zM46 863h1v1h-1zM93 863h1v1h-1zM170 863h1v1h-1zM186 863h1v1h-1zM255 863h1v1h-1zM332 863h1v1h-1zM769 863h1v4h-1zM970 863h1v1h-1zM973 863h4v1h-4zM980 863h2v1h-2zM992 863h2v1h-2zM18 864h1v2h-1zM45 864h1v2h-1zM94 864h1v2h-1zM169 864h1v1h-1zM256 864h1v1h-1zM331 864h1v1h-1zM921 864h2v1h-2zM969 864h1v2h-1zM977 864h3v1h-3zM994 864h3v1h-3zM1009 864h6v1h-6zM1034 864h3v1h-3zM1147 864h1v5h-1zM122 865h3v1h-3zM167 865h2v1h-2zM257 865h1v1h-1zM327 865h4v1h-4zM906 865h3v1h-3zM919 865h2v1h-2zM923 865h2v1h-2zM997 865h4v1h-4zM1005 865h4v1h-4zM1015 865h5v1h-5zM1032 865h2v1h-2zM1037 865h4v1h-4zM1129 865h2v1h-2zM19 866h1v2h-1zM44 866h1v1h-1zM95 866h1v1h-1zM121 866h1v1h-1zM125 866h4v1h-4zM166 866h1v1h-1zM258 866h1v1h-1zM322 866h5v1h-5zM904 866h2v1h-2zM909 866h4v1h-4zM916 866h3v1h-3zM925 866h2v1h-2zM968 866h1v2h-1zM1001 866h4v1h-4zM1020 866h3v1h-3zM1030 866h2v1h-2zM1041 866h3v1h-3zM1127 866h2v1h-2zM1131 866h1v1h-1zM43 867h1v2h-1zM96 867h1v1h-1zM120 867h1v2h-1zM129 867h12v1h-12zM165 867h1v1h-1zM259 867h1v1h-1zM320 867h2v1h-2zM770 867h1v3h-1zM903 867h1v1h-1zM913 867h3v1h-3zM927 867h1v1h-1zM946 867h1v1h-1zM1023 867h2v1h-2zM1028 867h2v1h-2zM1044 867h2v1h-2zM1124 867h3v1h-3zM1132 867h1v1h-1zM20 868h1v2h-1zM97 868h1v2h-1zM141 868h4v1h-4zM163 868h2v1h-2zM260 868h1v1h-1zM282 868h2v1h-2zM319 868h1v1h-1zM890 868h3v1h-3zM901 868h2v1h-2zM928 868h2v1h-2zM945 868h1v1h-1zM947 868h1v1h-1zM967 868h1v2h-1zM1025 868h3v1h-3zM1046 868h2v1h-2zM1106 868h2v1h-2zM1121 868h3v1h-3zM1133 868h2v1h-2zM41 869h2v1h-2zM119 869h1v1h-1zM145 869h18v1h-18zM261 869h1v1h-1zM280 869h2v1h-2zM284 869h2v1h-2zM317 869h2v1h-2zM890 869h1v1h-1zM893 869h4v1h-4zM899 869h2v1h-2zM930 869h1v1h-1zM944 869h1v1h-1zM948 869h1v1h-1zM1048 869h2v1h-2zM1105 869h1v1h-1zM1108 869h3v1h-3zM1119 869h2v1h-2zM1135 869h1v1h-1zM1146 869h1v3h-1zM21 870h1v2h-1zM39 870h2v1h-2zM98 870h1v1h-1zM118 870h1v1h-1zM262 870h1v2h-1zM278 870h2v1h-2zM286 870h2v1h-2zM315 870h2v1h-2zM771 870h1v3h-1zM889 870h1v4h-1zM897 870h2v1h-2zM931 870h2v1h-2zM943 870h1v1h-1zM949 870h1v1h-1zM966 870h1v2h-1zM1050 870h1v1h-1zM1066 870h2v1h-2zM1089 870h2v1h-2zM1104 870h1v2h-1zM1111 870h2v1h-2zM1116 870h3v1h-3zM1136 870h1v1h-1zM36 871h3v1h-3zM99 871h2v1h-2zM117 871h1v1h-1zM276 871h2v1h-2zM288 871h2v1h-2zM314 871h1v1h-1zM933 871h2v1h-2zM941 871h2v1h-2zM950 871h1v1h-1zM1051 871h1v1h-1zM1065 871h1v1h-1zM1068 871h2v1h-2zM1085 871h4v1h-4zM1091 871h1v1h-1zM1113 871h3v1h-3zM1137 871h1v1h-1zM1143 871h3v1h-3zM22 872h1v2h-1zM34 872h2v1h-2zM101 872h1v1h-1zM116 872h1v2h-1zM263 872h1v1h-1zM273 872h3v1h-3zM290 872h1v2h-1zM313 872h1v1h-1zM935 872h1v1h-1zM940 872h1v1h-1zM951 872h1v1h-1zM965 872h1v2h-1zM1052 872h1v2h-1zM1064 872h1v2h-1zM1070 872h2v1h-2zM1081 872h4v1h-4zM1092 872h1v1h-1zM1103 872h1v1h-1zM1138 872h5v1h-5zM33 873h1v1h-1zM102 873h1v1h-1zM264 873h1v1h-1zM271 873h2v1h-2zM312 873h1v1h-1zM772 873h1v2h-1zM936 873h2v1h-2zM939 873h1v1h-1zM952 873h1v1h-1zM1072 873h2v1h-2zM1077 873h4v1h-4zM1093 873h1v1h-1zM1102 873h1v1h-1zM23 874h1v2h-1zM32 874h1v1h-1zM103 874h2v1h-2zM115 874h1v1h-1zM265 874h1v1h-1zM268 874h3v1h-3zM291 874h1v2h-1zM311 874h1v1h-1zM888 874h1v4h-1zM938 874h1v1h-1zM953 874h1v1h-1zM964 874h1v2h-1zM1053 874h1v1h-1zM1063 874h1v1h-1zM1074 874h3v1h-3zM1094 874h1v1h-1zM1101 874h1v1h-1zM31 875h1v1h-1zM105 875h1v1h-1zM111 875h4v1h-4zM266 875h2v1h-2zM310 875h1v1h-1zM773 875h1v3h-1zM954 875h2v1h-2zM1054 875h1v1h-1zM1062 875h1v1h-1zM1095 875h1v1h-1zM1100 875h1v2h-1zM24 876h1v2h-1zM30 876h1v1h-1zM106 876h5v1h-5zM292 876h1v2h-1zM309 876h1v1h-1zM956 876h2v1h-2zM963 876h1v2h-1zM1055 876h1v1h-1zM1061 876h1v1h-1zM1096 876h1v1h-1zM29 877h1v1h-1zM308 877h1v1h-1zM958 877h2v1h-2zM1056 877h1v2h-1zM1060 877h1v2h-1zM1097 877h1v1h-1zM1099 877h1v1h-1zM25 878h1v2h-1zM28 878h1v1h-1zM293 878h1v2h-1zM307 878h1v1h-1zM774 878h1v3h-1zM887 878h1v4h-1zM960 878h3v1h-3zM1098 878h1v1h-1zM27 879h1v1h-1zM306 879h1v1h-1zM962 879h1v1h-1zM1057 879h1v1h-1zM1059 879h1v1h-1zM26 880h1v1h-1zM294 880h1v2h-1zM305 880h1v1h-1zM1058 880h1v1h-1zM304 881h1v2h-1zM775 881h1v3h-1zM295 882h1v2h-1zM886 882h1v4h-1zM303 883h1v1h-1zM786 883h1v1h-1zM296 884h1v2h-1zM302 884h1v1h-1zM776 884h1v2h-1zM785 884h1v1h-1zM787 884h1v1h-1zM301 885h1v1h-1zM784 885h1v1h-1zM788 885h1v1h-1zM297 886h1v2h-1zM300 886h1v2h-1zM777 886h1v3h-1zM783 886h1v1h-1zM789 886h2v1h-2zM885 886h1v4h-1zM781 887h2v1h-2zM791 887h1v1h-1zM298 888h2v1h-2zM780 888h1v1h-1zM792 888h1v1h-1zM298 889h1v1h-1zM778 889h2v1h-2zM793 889h1v1h-1zM778 890h1v1h-1zM794 890h3v1h-3zM884 890h1v4h-1zM797 891h4v1h-4zM801 892h6v1h-6zM874 892h1v1h-1zM807 893h6v1h-6zM872 893h2v1h-2zM875 893h1v1h-1zM813 894h4v1h-4zM871 894h1v1h-1zM876 894h1v1h-1zM883 894h1v4h-1zM817 895h6v1h-6zM869 895h2v1h-2zM877 895h2v1h-2zM823 896h12v1h-12zM867 896h2v1h-2zM879 896h1v1h-1zM835 897h1v1h-1zM858 897h9v1h-9zM880 897h1v1h-1zM836 898h1v1h-1zM857 898h1v1h-1zM881 898h2v1h-2zM837 899h1v1h-1zM856 899h1v1h-1zM882 899h1v1h-1zM838 900h1v1h-1zM855 900h1v1h-1zM839 901h1v1h-1zM853 901h2v1h-2zM840 902h1v1h-1zM852 902h1v1h-1zM841 903h1v1h-1zM851 903h1v1h-1zM842 904h9v1h-9z"/>
<text transform="translate(1634,782.5) scale(.94,1)" font-size="9.8" fill="#000" stroke="#000" stroke-width=".1" text-anchor="start">100</text>
<text transform="translate(1634,808.5) scale(.94,1)" font-size="9.8" fill="#000" stroke="#000" stroke-width=".1" text-anchor="start">80</text>
<text transform="translate(1634,855.5) scale(.94,1)" font-size="9.8" fill="#000" stroke="#000" stroke-width=".1" text-anchor="start">50</text>
<text transform="translate(1634,911.5) scale(.94,1)" font-size="9.8" fill="#000" stroke="#000" stroke-width=".1" text-anchor="start">15</text>
<text transform="translate(1634,928.5) scale(.94,1)" font-size="9.8" fill="#000" stroke="#000" stroke-width=".1" text-anchor="start">0</text>
<rect x="2" y="933" width="1" height="3" fill="#000"/>
<text transform="translate(1.5,945) scale(.94,1)" font-size="9.8" fill="#000" stroke="#000" stroke-width=".1" text-anchor="start">10 Jul 2019</text>
<rect x="66" y="933" width="1" height="3" fill="#000"/>
<text transform="translate(65.5,945) scale(.94,1)" font-size="9.8" fill="#000" stroke="#000" stroke-width=".1" text-anchor="start">11 Jul 20:00</text>
<rect x="130" y="933" width="1" height="3" fill="#000"/>
<text transform="translate(129.5,945) scale(.94,1)" font-size="9.8" fill="#000" stroke="#000" stroke-width=".1" text-anchor="start">15 Jul 04:00</text>
<rect x="194" y="933" width="1" height="3" fill="#000"/>
<text transform="translate(193.5,945) scale(.94,1)" font-size="9.8" fill="#000" stroke="#000" stroke-width=".1" text-anchor="start">16 Jul 12:00</text>
<rect x="258" y="933" width="1" height="3" fill="#000"/>
<text transform="translate(257.5,945) scale(.94,1)" font-size="9.8" fill="#000" stroke="#000" stroke-width=".1" text-anchor="start">17 Jul 20:00</text>
<rect x="322" y="933" width="1" height="3" fill="#000"/>
<text transform="translate(321.5,945) scale(.94,1)" font-size="9.8" fill="#000" stroke="#000" stroke-width=".1" text-anchor="start">19 Jul 04:00</text>
<rect x="386" y="933" width="1" height="3" fill="#000"/>
<text transform="translate(385.5,945) scale(.94,1)" font-size="9.8" fill="#000" stroke="#000" stroke-width=".1" text-anchor="start">22 Jul 12:00</text>
<rect x="450" y="933" width="1" height="3" fill="#000"/>
<text transform="translate(449.5,945) scale(.94,1)" font-size="9.8" fill="#000" stroke="#000" stroke-width=".1" text-anchor="start">23 Jul 20:00</text>
<rect x="514" y="933" width="1" height="3" fill="#000"/>
<text transform="translate(513.5,945) scale(.94,1)" font-size="9.8" fill="#000" stroke="#000" stroke-width=".1" text-anchor="start">25 Jul 04:00</text>
<rect x="578" y="933" width="1" height="3" fill="#000"/>
<text transform="translate(577.5,945) scale(.94,1)" font-size="9.8" fill="#000" stroke="#000" stroke-width=".1" text-anchor="start">26 Jul 12:00</text>
<rect x="642" y="933" width="1" height="3" fill="#000"/>
<text transform="translate(641.5,945) scale(.94,1)" font-size="9.8" fill="#000" stroke="#000" stroke-width=".1" text-anchor="start">29 Jul 20:00</text>
<rect x="706" y="933" width="1" height="3" fill="#000"/>
<text transform="translate(705.5,945) scale(.94,1)" font-size="9.8" fill="#000" stroke="#000" stroke-width=".1" text-anchor="start">31 Jul 04:00</text>
<rect x="770" y="933" width="1" height="3" fill="#000"/>
<text transform="translate(769.5,945) scale(.94,1)" font-size="9.8" fill="#000" stroke="#000" stroke-width=".1" text-anchor="start">1 Aug 12:00</text>
<rect x="834" y="933" width="1" height="3" fill="#000"/>
<text transform="translate(833.5,945) scale(.94,1)" font-size="9.8" fill="#000" stroke="#000" stroke-width=".1" text-anchor="start">4 Aug 23:00</text>
<rect x="898" y="933" width="1" height="3" fill="#000"/>
<text transform="translate(897.5,945) scale(.94,1)" font-size="9.8" fill="#000" stroke="#000" stroke-width=".1" text-anchor="start">6 Aug 04:00</text>
<rect x="962" y="933" width="1" height="3" fill="#000"/>
<text transform="translate(961.5,945) scale(.94,1)" font-size="9.8" fill="#000" stroke="#000" stroke-width=".1" text-anchor="start">7 Aug 12:00</text>
<rect x="1026" y="933" width="1" height="3" fill="#000"/>
<text transform="translate(1025.5,945) scale(.94,1)" font-size="9.8" fill="#000" stroke="#000" stroke-width=".1" text-anchor="start">8 Aug 20:00</text>
<rect x="1090" y="933" width="1" height="3" fill="#000"/>
<text transform="translate(1089.5,945) scale(.94,1)" font-size="9.8" fill="#000" stroke="#000" stroke-width=".1" text-anchor="start">12 Aug 04:00</text>
<rect x="1154" y="933" width="1" height="3" fill="#000"/>
<text transform="translate(1153.5,945) scale(.94,1)" font-size="9.8" fill="#000" stroke="#000" stroke-width=".1" text-anchor="start">13 Aug 12:00</text>
<rect x="1218" y="933" width="1" height="3" fill="#000"/>
<text transform="translate(1217.5,945) scale(.94,1)" font-size="9.8" fill="#000" stroke="#000" stroke-width=".1" text-anchor="start">14 Aug 20:00</text>
<rect x="1282" y="933" width="1" height="3" fill="#000"/>
<text transform="translate(1281.5,945) scale(.94,1)" font-size="9.8" fill="#000" stroke="#000" stroke-width=".1" text-anchor="start">16 Aug 04:00</text>
<rect x="1346" y="933" width="1" height="3" fill="#000"/>
<text transform="translate(1345.5,945) scale(.94,1)" font-size="9.8" fill="#000" stroke="#000" stroke-width=".1" text-anchor="start">19 Aug 12:00</text>
<rect x="1410" y="933" width="1" height="3" fill="#000"/>
<text transform="translate(1409.5,945) scale(.94,1)" font-size="9.8" fill="#000" stroke="#000" stroke-width=".1" text-anchor="start">20 Aug 20:00</text></svg>
<svg class="abs" style="left:0;top:0" width="1677" height="32" viewBox="0 0 1677 32" font-family='"Liberation Sans","Noto Sans CJK SC",sans-serif'><defs><linearGradient id="gp" x1="0" y1="0" x2="1" y2="1"><stop offset="0" stop-color="#8cff8c"/><stop offset=".45" stop-color="#2fe02f"/><stop offset="1" stop-color="#0a9a0a"/></linearGradient><linearGradient id="gold" x1="0" y1="0" x2="1" y2="1"><stop offset="0" stop-color="#f9e27a"/><stop offset=".5" stop-color="#e6b422"/><stop offset="1" stop-color="#b9770e"/></linearGradient><linearGradient id="lens" x1="0" y1="0" x2="0" y2="1"><stop offset="0" stop-color="#eaf4ff"/><stop offset="1" stop-color="#a9cdf2"/></linearGradient><linearGradient id="blu" x1="0" y1="0" x2="1" y2="1"><stop offset="0" stop-color="#4ab0ff"/><stop offset="1" stop-color="#0a62d0"/></linearGradient><radialGradient id="clk" cx=".4" cy=".35" r=".8"><stop offset="0" stop-color="#4aa3ff"/><stop offset="1" stop-color="#0b4fae"/></radialGradient><pattern id="chk" width="2" height="2" patternUnits="userSpaceOnUse"><rect width="2" height="2" fill="#fff"/><rect width="1" height="1" fill="#ececec"/><rect x="1" y="1" width="1" height="1" fill="#ececec"/></pattern></defs><rect x="0" y="0" width="1677" height="30" fill="#f0f0f0"/><rect x="0" y="0" width="1677" height="1" fill="#d9d9d9"/><rect x="0" y="1" width="1677" height="1" fill="#a6a6a6"/><rect x="0" y="2" width="1677" height="1" fill="#fbfbfb"/><rect x="0" y="27" width="1677" height="1" fill="#dcdcdc"/><rect x="0" y="28" width="1677" height="1" fill="#8c8c8c"/><rect x="0" y="29" width="1677" height="1" fill="#6e6e6e"/><rect x="0" y="30" width="1677" height="2" fill="#fff"/><rect x="1676" y="30" width="1" height="920" fill="#e3e3e3"/><path d="M1.5,8.5 h8 l3.5,3.5 v10 h-11.5 z" fill="#fff" stroke="#8a8a8a" stroke-width="1"/><path d="M9.5,8.5 v3.5 h3.5" fill="#e8e8e8" stroke="#8a8a8a" stroke-width=".8"/><g fill="#9a9a9a"><rect x="3" y="10" width="3" height="2"/><rect x="3" y="14" width="6" height="1"/><rect x="3" y="16" width="5" height="1"/><rect x="3" y="18" width="3" height="1"/></g><path d="M9.0,14.5 h4 v3.5 h3.5 v4 h-3.5 v3.5 h-4 v-3.5 h-3.5 v-4 h3.5 z" fill="url(#gp)" stroke="#0f8f0f" stroke-width=".6"/><text x="20" y="19" font-size="12" fill="#000">新订单</text><path d="M68.2,17.6 L72.6,10.4 Q73.4,9 74.8,9.9 L83.6,17 L76.2,23.6 z" fill="url(#gold)" stroke="#b8801a" stroke-width=".7"/><path d="M68.2,17.6 L76.2,23.6 L83.6,17 L83.9,18.6 L76.3,25.2 L68.4,19.2 z" fill="#a5650e"/><path d="M69.4,18.9 L76.3,24.1 L83.4,17.9" fill="none" stroke="#e9c77a" stroke-width=".5"/><ellipse cx="74.5" cy="15" rx="3.2" ry="2.2" fill="#fff3b0" opacity=".55" transform="rotate(38 74.5 15)"/><path d="M99,8.5 l7.5,0 l2.5,2 v7.5 h-10 z" fill="url(#blu)" stroke="#0a62d0" stroke-width=".6"/><rect x="102.5" y="10" width="1" height="7" fill="#d8ecff"/><rect x="105" y="12" width="3" height="1.2" fill="#d8ecff"/><path d="M98.5,23.3 a3,3 0 0 1 .3,-6 a3.8,3.8 0 0 1 6.6,-1.2 a3.2,3.2 0 0 1 4.4,2.2 a2.6,2.6 0 0 1 -.3,5 z" fill="#eef4fb" stroke="#6f8fc0" stroke-width=".9"/><g fill="none" stroke-width="1.2"><path d="M131.8,8 a7.8,7.8 0 0 0 0,15.6" stroke="#7aa7e6"/><path d="M131.8,8 a7.8,7.8 0 0 1 0,15.6" stroke="#7fc08a"/><path d="M131.8,10.5 a5.2,5.2 0 0 0 0,10.4" stroke="#4f86da"/><path d="M131.8,10.5 a5.2,5.2 0 0 1 0,10.4" stroke="#4fae62"/><path d="M131.8,13 a2.8,2.8 0 0 0 0,5.6" stroke="#2f6fd4"/><path d="M131.8,13 a2.8,2.8 0 0 1 0,5.6" stroke="#2f9e48"/></g><circle cx="131.8" cy="15.4" r="1.6" fill="#2a5fd0"/><rect x="131.2" y="15.5" width="1.6" height="8.3" fill="#22a53a"/><path d="M152,15 l14,0 l0,3 l-7,6 l-7,-6 z" fill="#f7d84a" stroke="#d9a514" stroke-width=".7"/><path d="M151,13.5 c0,-2 3,-2.5 4.5,-2.8 c.5,-2.6 6.5,-2.6 7,0 c1.5,.3 4.5,.8 4.5,2.8 c0,2.2 -16,2.2 -16,0 z" fill="#5aaee6" stroke="#2c7fc0" stroke-width=".7"/><circle cx="163.7" cy="19.7" r="4.3" fill="#e3210f"/><rect x="161.9" y="17.9" width="3.6" height="3.6" fill="#fff"/><text x="172.5" y="19" font-size="12" fill="#000">自动交易</text><rect x="227" y="3" width="1" height="25" fill="#8a8a8a"/><rect x="228" y="3" width="1" height="25" fill="#fdfdfd"/><rect x="231" y="6" width="3" height="1" fill="#a8a8a8"/><rect x="231" y="8" width="3" height="1" fill="#a8a8a8"/><rect x="231" y="10" width="3" height="1" fill="#a8a8a8"/><rect x="231" y="12" width="3" height="1" fill="#a8a8a8"/><rect x="231" y="14" width="3" height="1" fill="#a8a8a8"/><rect x="231" y="16" width="3" height="1" fill="#a8a8a8"/><rect x="231" y="18" width="3" height="1" fill="#a8a8a8"/><rect x="231" y="20" width="3" height="1" fill="#a8a8a8"/><rect x="231" y="22" width="3" height="1" fill="#a8a8a8"/><rect x="231" y="24" width="3" height="1" fill="#a8a8a8"/><g fill="#555"><rect x="245" y="10.5" width="1" height="13.5"/><rect x="242.5" y="21" width="13" height="1"/><polygon points="243.8,12.3 245.5,9.6 247.2,12.3"/><polygon points="254.3,19.8 257,21.5 254.3,23.2"/></g><g fill="#0a8a0a"><rect x="251.6" y="11.4" width="1.2" height="8.4"/><rect x="249.3" y="18.3" width="2.8" height="1.1"/><rect x="252.2" y="12" width="2" height="1.1"/></g><rect x="265" y="4" width="25" height="22" fill="url(#chk)"/><rect x="265" y="4" width="25" height="1" fill="#a0a0a0"/><rect x="265" y="4" width="1" height="22" fill="#a0a0a0"/><rect x="265" y="25" width="25" height="1" fill="#fff"/><rect x="289" y="4" width="1" height="22" fill="#fff"/><g fill="#555"><rect x="273" y="10.5" width="1" height="13.5"/><rect x="270.5" y="21" width="13" height="1"/><polygon points="271.8,12.3 273.5,9.6 275.2,12.3"/><polygon points="282.3,19.8 285,21.5 282.3,23.2"/></g><rect x="279" y="8" width="1.4" height="12" fill="#0a8a0a"/><rect x="277.3" y="10.4" width="4.8" height="7.2" fill="#3fe04a" stroke="#0a8a0a" stroke-width="1"/><g fill="#555"><rect x="301" y="10.5" width="1" height="13.5"/><rect x="298.5" y="21" width="13" height="1"/><polygon points="299.8,12.3 301.5,9.6 303.2,12.3"/><polygon points="310.3,19.8 313,21.5 310.3,23.2"/></g><path d="M300,19 C303,17 305,12.5 307.5,13.5 S310,17 312,17.5" fill="none" stroke="#2c9a3a" stroke-width="1.05"/><rect x="322" y="5" width="1" height="21" fill="#a0a0a0"/><line x1="341" y1="18.9" x2="346" y2="23.1" stroke="#b8860b" stroke-width="3.2" stroke-linecap="round"/><line x1="341.3" y1="18.9" x2="345.6" y2="22.6" stroke="#f1d35a" stroke-width="1.6" stroke-linecap="round"/><circle cx="337" cy="14.6" r="5.4" fill="url(#lens)" stroke="#3f7fd0" stroke-width="1.3"/><rect x="334" y="13.7" width="6" height="1.8" fill="#4a8ed8"/><rect x="336.1" y="11.6" width="1.8" height="6" fill="#4a8ed8"/><line x1="369" y1="18.3" x2="374" y2="22.5" stroke="#b8860b" stroke-width="3.2" stroke-linecap="round"/><line x1="369.3" y1="18.3" x2="373.6" y2="22" stroke="#f1d35a" stroke-width="1.6" stroke-linecap="round"/><circle cx="365" cy="14" r="5.4" fill="url(#lens)" stroke="#3f7fd0" stroke-width="1.3"/><rect x="362" y="13.1" width="6" height="1.8" fill="#4a8ed8"/><rect x="387" y="8" width="8" height="8" fill="#3f9a1f"/><rect x="388.3" y="11" width="5.4" height="3.6" fill="#fff"/><rect x="389.2" y="12.2" width="3.6" height="1" fill="#3f9a1f" opacity=".45"/><rect x="388" y="9" width="1" height="1" fill="#fff" opacity=".8"/><rect x="395" y="8" width="8" height="8" fill="#1f55cc"/><rect x="396.3" y="11" width="5.4" height="3.6" fill="#fff"/><rect x="397.2" y="12.2" width="3.6" height="1" fill="#1f55cc" opacity=".45"/><rect x="396" y="9" width="1" height="1" fill="#fff" opacity=".8"/><rect x="387" y="16" width="8" height="8" fill="#1f55cc"/><rect x="388.3" y="19" width="5.4" height="3.6" fill="#fff"/><rect x="389.2" y="20.2" width="3.6" height="1" fill="#1f55cc" opacity=".45"/><rect x="388" y="17" width="1" height="1" fill="#fff" opacity=".8"/><rect x="395" y="16" width="8" height="8" fill="#3f9a1f"/><rect x="396.3" y="19" width="5.4" height="3.6" fill="#fff"/><rect x="397.2" y="20.2" width="3.6" height="1" fill="#3f9a1f" opacity=".45"/><rect x="396" y="17" width="1" height="1" fill="#fff" opacity=".8"/><rect x="412" y="5" width="1" height="21" fill="#a0a0a0"/><rect x="417" y="4" width="25" height="22" fill="url(#chk)"/><rect x="417" y="4" width="25" height="1" fill="#a0a0a0"/><rect x="417" y="4" width="1" height="22" fill="#a0a0a0"/><rect x="417" y="25" width="25" height="1" fill="#fff"/><rect x="441" y="4" width="1" height="22" fill="#fff"/><g fill="#555"><rect x="425" y="10.5" width="1" height="13.5"/><rect x="422.5" y="21" width="13" height="1"/><polygon points="423.8,12.3 425.5,9.6 427.2,12.3"/><polygon points="434.3,19.8 437,21.5 434.3,23.2"/></g><polygon points="430,12 434.3,15.4 430,18.8" fill="#3fd04a" stroke="#0a8a0a" stroke-width=".9"/><rect x="445" y="4" width="25" height="22" fill="url(#chk)"/><rect x="445" y="4" width="25" height="1" fill="#a0a0a0"/><rect x="445" y="4" width="1" height="22" fill="#a0a0a0"/><rect x="445" y="25" width="25" height="1" fill="#fff"/><rect x="469" y="4" width="1" height="22" fill="#fff"/><g fill="#555"><rect x="453" y="10.5" width="1" height="13.5"/><rect x="450.5" y="21" width="13" height="1"/><polygon points="451.8,12.3 453.5,9.6 455.2,12.3"/><polygon points="462.3,19.8 465,21.5 462.3,23.2"/></g><rect x="459" y="10" width="1.3" height="10" fill="#1f6fb8"/><path d="M465,15.5 h-4 M463,13.3 l-2.3,2.2 l2.3,2.2" stroke="#d8400a" stroke-width="1.2" fill="none"/><rect x="474" y="5" width="1" height="21" fill="#a0a0a0"/><path d="M484.5,8.5 h8 l3.5,3.5 v10 h-11.5 z" fill="#fff" stroke="#8a8a8a" stroke-width="1"/><path d="M492.5,8.5 v3.5 h3.5" fill="#e8e8e8" stroke="#8a8a8a" stroke-width=".8"/><text x="486.5" y="18" font-size="9" font-style="italic" fill="#6a5a3a" font-family='"Liberation Serif",serif'>f</text><path d="M492.0,14.8 h4 v3.5 h3.5 v4 h-3.5 v3.5 h-4 v-3.5 h-3.5 v-4 h3.5 z" fill="url(#gp)" stroke="#0f8f0f" stroke-width=".6"/><polygon points="505.5,14.5 511.5,14.5 508.5,18" fill="#000"/><circle cx="530" cy="15.9" r="6.6" fill="#fff" stroke="url(#clk)" stroke-width="2.8"/><path d="M530,11.5 v4.6 h3" stroke="#333" stroke-width="1.2" fill="none"/><circle cx="530" cy="19.6" r=".8" fill="#6aa8f0"/><polygon points="544.5,14.5 550.5,14.5 547.5,18" fill="#000"/><rect x="561" y="9" width="16" height="14" fill="#fff" stroke="#3b78d8" stroke-width="1.2"/><rect x="561" y="9" width="16" height="2.4" fill="#5b9bea"/><rect x="561.5" y="16.6" width="15" height=".9" fill="#3b78d8"/><path d="M563,15 l2.5,0 l2,-1.5 l2.5,0 l1.5,1 l2,-1.3 l1.5,0" stroke="#a02a10" stroke-width="1.2" fill="none"/><path d="M563.5,20.8 l2.5,-.8 l2,1 l3,-2.3 l3,2.3" stroke="#1f8a2a" stroke-width="1.2" fill="none"/><polygon points="583.5,14.5 589.5,14.5 586.5,18" fill="#000"/><rect x="595" y="3" width="1" height="25" fill="#8a8a8a"/><rect x="596" y="3" width="1" height="25" fill="#fdfdfd"/><rect x="599" y="6" width="3" height="1" fill="#a8a8a8"/><rect x="599" y="8" width="3" height="1" fill="#a8a8a8"/><rect x="599" y="10" width="3" height="1" fill="#a8a8a8"/><rect x="599" y="12" width="3" height="1" fill="#a8a8a8"/><rect x="599" y="14" width="3" height="1" fill="#a8a8a8"/><rect x="599" y="16" width="3" height="1" fill="#a8a8a8"/><rect x="599" y="18" width="3" height="1" fill="#a8a8a8"/><rect x="599" y="20" width="3" height="1" fill="#a8a8a8"/><rect x="599" y="22" width="3" height="1" fill="#a8a8a8"/><rect x="599" y="24" width="3" height="1" fill="#a8a8a8"/><rect x="605" y="4" width="25" height="22" fill="url(#chk)"/><rect x="605" y="4" width="25" height="1" fill="#a0a0a0"/><rect x="605" y="4" width="1" height="22" fill="#a0a0a0"/><rect x="605" y="25" width="25" height="1" fill="#fff"/><rect x="629" y="4" width="1" height="22" fill="#fff"/><polygon points="613,9 613,20 615.8,17.6 618,23 619.8,22.2 617.5,17 621,16.8" fill="#505050"/><g fill="#505050"><rect x="638" y="16" width="6" height="1"/><rect x="647" y="16" width="6" height="1"/><rect x="645" y="9" width="1" height="6"/><rect x="645" y="18" width="1" height="6"/><rect x="645" y="16" width="1" height="1" opacity=".5"/></g><rect x="662" y="5" width="1" height="21" fill="#a0a0a0"/><rect x="679" y="10" width="1" height="13" fill="#505050"/><rect x="702" y="16" width="12" height="1" fill="#505050"/><line x1="729.7" y1="23" x2="742" y2="10.7" stroke="#505050" stroke-width="1.1"/><g stroke="#505050" stroke-width="1" fill="none"><line x1="756" y1="17.5" x2="765" y2="9.5"/><line x1="758" y1="22" x2="769" y2="12"/><line x1="761.5" y1="23" x2="770" y2="15"/><path d="M758,20.5 l1.5,-5 l1.5,3.5 l1.5,-5.5 l1.5,3.5 l1.5,-6 l1.5,4.5 l.8,-7" stroke-width=".9"/></g><text x="767" y="24.6" font-size="6.5" font-weight="700" fill="#333">E</text><rect x="785" y="9" width="1" height="1" fill="#505050"/><rect x="787" y="9" width="1" height="1" fill="#505050"/><rect x="789" y="9" width="1" height="1" fill="#505050"/><rect x="791" y="9" width="1" height="1" fill="#505050"/><rect x="793" y="9" width="1" height="1" fill="#505050"/><rect x="795" y="9" width="1" height="1" fill="#505050"/><rect x="797" y="9" width="1" height="1" fill="#505050"/><rect x="785" y="12" width="1" height="1" fill="#505050"/><rect x="787" y="12" width="1" height="1" fill="#505050"/><rect x="789" y="12" width="1" height="1" fill="#505050"/><rect x="791" y="12" width="1" height="1" fill="#505050"/><rect x="793" y="12" width="1" height="1" fill="#505050"/><rect x="795" y="12" width="1" height="1" fill="#505050"/><rect x="797" y="12" width="1" height="1" fill="#505050"/><rect x="785" y="16" width="1" height="1" fill="#505050"/><rect x="787" y="16" width="1" height="1" fill="#505050"/><rect x="789" y="16" width="1" height="1" fill="#505050"/><rect x="791" y="16" width="1" height="1" fill="#505050"/><rect x="793" y="16" width="1" height="1" fill="#505050"/><rect x="795" y="16" width="1" height="1" fill="#505050"/><rect x="797" y="16" width="1" height="1" fill="#505050"/><rect x="785" y="20" width="1" height="1" fill="#505050"/><rect x="787" y="20" width="1" height="1" fill="#505050"/><rect x="789" y="20" width="1" height="1" fill="#505050"/><rect x="791" y="20" width="1" height="1" fill="#505050"/><rect x="793" y="20" width="1" height="1" fill="#505050"/><text x="794.6" y="24.6" font-size="6.5" font-weight="700" fill="#333">F</text><text x="819.7" y="21" font-size="12.5" fill="#555" text-anchor="middle" stroke="#555" stroke-width=".3">A</text><rect x="842" y="10" width="1" height="1" fill="#505050"/><rect x="842" y="22" width="1" height="1" fill="#505050"/><rect x="844" y="10" width="1" height="1" fill="#505050"/><rect x="844" y="22" width="1" height="1" fill="#505050"/><rect x="846" y="10" width="1" height="1" fill="#505050"/><rect x="846" y="22" width="1" height="1" fill="#505050"/><rect x="848" y="10" width="1" height="1" fill="#505050"/><rect x="848" y="22" width="1" height="1" fill="#505050"/><rect x="850" y="10" width="1" height="1" fill="#505050"/><rect x="850" y="22" width="1" height="1" fill="#505050"/><rect x="852" y="10" width="1" height="1" fill="#505050"/><rect x="852" y="22" width="1" height="1" fill="#505050"/><rect x="854" y="10" width="1" height="1" fill="#505050"/><rect x="854" y="22" width="1" height="1" fill="#505050"/><rect x="842" y="12" width="1" height="1" fill="#505050"/><rect x="854" y="12" width="1" height="1" fill="#505050"/><rect x="842" y="14" width="1" height="1" fill="#505050"/><rect x="854" y="14" width="1" height="1" fill="#505050"/><rect x="842" y="16" width="1" height="1" fill="#505050"/><rect x="854" y="16" width="1" height="1" fill="#505050"/><rect x="842" y="18" width="1" height="1" fill="#505050"/><rect x="854" y="18" width="1" height="1" fill="#505050"/><rect x="842" y="20" width="1" height="1" fill="#505050"/><rect x="854" y="20" width="1" height="1" fill="#505050"/><rect x="841" y="9" width="2" height="1.5" fill="#505050"/><rect x="844" y="13" width="8" height="1.5" fill="#505050"/><rect x="847.2" y="13" width="1.6" height="8" fill="#505050"/><polygon points="869,14 872.4,10 875.8,14" fill="#505050"/><polygon points="876,18.7 883,18.7 879.5,23" fill="#505050"/><path d="M871,16.5 l2,2.3 l4.5,-4.5" stroke="#505050" stroke-width="1.3" fill="none"/><polygon points="889.5,14.5 895.5,14.5 892.5,18" fill="#000"/><rect x="901" y="3" width="1" height="25" fill="#8a8a8a"/><rect x="902" y="3" width="1" height="25" fill="#fdfdfd"/><rect x="905" y="6" width="3" height="1" fill="#a8a8a8"/><rect x="905" y="8" width="3" height="1" fill="#a8a8a8"/><rect x="905" y="10" width="3" height="1" fill="#a8a8a8"/><rect x="905" y="12" width="3" height="1" fill="#a8a8a8"/><rect x="905" y="14" width="3" height="1" fill="#a8a8a8"/><rect x="905" y="16" width="3" height="1" fill="#a8a8a8"/><rect x="905" y="18" width="3" height="1" fill="#a8a8a8"/><rect x="905" y="20" width="3" height="1" fill="#a8a8a8"/><rect x="905" y="22" width="3" height="1" fill="#a8a8a8"/><rect x="905" y="24" width="3" height="1" fill="#a8a8a8"/><rect x="1051" y="4" width="25" height="22" fill="url(#chk)"/><rect x="1051" y="4" width="25" height="1" fill="#a0a0a0"/><rect x="1051" y="4" width="1" height="22" fill="#a0a0a0"/><rect x="1051" y="25" width="25" height="1" fill="#fff"/><rect x="1075" y="4" width="1" height="22" fill="#fff"/><text transform="translate(922.9,19.4) scale(.94,1)" font-size="9.9" fill="#3a3a3a" text-anchor="middle">M1</text><text transform="translate(950.9,19.4) scale(.94,1)" font-size="9.9" fill="#3a3a3a" text-anchor="middle">M5</text><text transform="translate(979.2,19.4) scale(.94,1)" font-size="9.9" fill="#3a3a3a" text-anchor="middle">M15</text><text transform="translate(1007.5,19.4) scale(.94,1)" font-size="9.9" fill="#3a3a3a" text-anchor="middle">M30</text><text transform="translate(1035.9,19.4) scale(.94,1)" font-size="9.9" fill="#3a3a3a" text-anchor="middle">H1</text><text transform="translate(1063,19.4) scale(.94,1)" font-size="9.9" fill="#3a3a3a" text-anchor="middle">H4</text><text transform="translate(1091.5,19.4) scale(.94,1)" font-size="9.9" fill="#3a3a3a" text-anchor="middle">D1</text><text transform="translate(1120.1,19.4) scale(.94,1)" font-size="9.9" fill="#3a3a3a" text-anchor="middle">W1</text><text transform="translate(1147.1,19.4) scale(.94,1)" font-size="9.9" fill="#3a3a3a" text-anchor="middle">MN</text><rect x="1162" y="3" width="1" height="25" fill="#a0a0a0"/><line x1="1624.8" y1="21" x2="1629.6" y2="16.4" stroke="#2a5ad0" stroke-width="2.4" stroke-linecap="round"/><circle cx="1632.6" cy="13.5" r="3.7" fill="#f4f8ff" stroke="#2a5ad0" stroke-width="1.3"/><g stroke="#9a9a9a" stroke-width=".9"><path d="M1665,8.3 c3.8,0 7,2.2 7,5 c0,1.8 -1.3,3.4 -3.4,4.2 l.8,2 l-2.8,-1.4 c-.5,.1 -1,.1 -1.6,.1 c-3.8,0 -7,-2.2 -7,-5 c0,-2.8 3.2,-4.9 7,-4.9 z" fill="#f1f1f4"/><path d="M1656.2,13 c2.9,0 5.2,1.8 5.2,4 c0,2.2 -2.3,4 -5.2,4 c-.4,0 -.8,0 -1.2,-.1 l-2.3,1.5 l.6,-2.2 c-1.4,-.7 -2.3,-1.9 -2.3,-3.2 c0,-2.2 2.3,-4 5.2,-4 z" fill="#eeeef2"/></g></svg>

<div class="abs" style="left:3px;top:50px;width:224px;height:68px;background:#fff"></div>
<div class="abs" style="left:5px;top:52px;width:219px;height:64px;font-family:'Liberation Sans',sans-serif;color:#fff">
  <div class="abs" style="left:0;top:0;width:52px;height:24px;background:linear-gradient(#fb5353,#e23838);box-shadow:inset 1px 1px 0 rgba(175,0,0,.6),inset -1px 0 0 rgba(175,0,0,.6)"></div>
  <div class="abs" style="left:4px;top:23px;width:44px;height:1px;background:#a61414"></div>
  <div class="abs" style="left:4px;top:24px;width:44px;height:1px;background:#f06a6a;z-index:2"></div>
  <div class="abs" style="left:-.7px;top:0;width:52px;height:24px;line-height:24px;text-align:center;font-size:12px;transform:scaleX(.9)">SELL</div>
  <div class="abs" style="left:167px;top:0;width:52px;height:24px;background:linear-gradient(#fb5353,#e23838);box-shadow:inset 1px 1px 0 rgba(175,0,0,.6),inset -1px 0 0 rgba(175,0,0,.6)"></div>
  <div class="abs" style="left:171px;top:23px;width:44px;height:1px;background:#a61414"></div>
  <div class="abs" style="left:171px;top:24px;width:44px;height:1px;background:#f06a6a;z-index:2"></div>
  <div class="abs" style="left:167px;top:0;width:52px;height:24px;line-height:24px;text-align:center;font-size:12px;">BUY</div>
  <div class="abs" style="left:0;top:24px;width:109px;height:40px;background:linear-gradient(#dc2d2d,#d02020 45%,#aa0000);box-shadow:inset 1px 0 0 rgba(160,0,0,.55),inset -1px -1px 0 rgba(150,0,0,.55)"></div>
  <div class="abs" style="left:111px;top:24px;width:108px;height:40px;background:linear-gradient(#dc2d2d,#d02020 45%,#aa0000);box-shadow:inset 1px 0 0 rgba(160,0,0,.55),inset -1px -1px 0 rgba(150,0,0,.55)"></div>
  <div class="abs" style="left:54px;top:0;width:111px;height:22px;background:#fff;border:1px solid #a7adb3;box-sizing:border-box"></div>
  <div class="abs" style="left:55px;top:1px;width:21px;height:20px;background:#e9e9e9;border-right:1px solid #b5b5b5;box-sizing:border-box"></div>
  <div class="abs" style="left:143px;top:1px;width:21px;height:20px;background:#e9e9e9;border-left:1px solid #b5b5b5;box-sizing:border-box"></div>
  <svg class="abs" style="left:62px;top:9px" width="7" height="4"><polygon points="0,0 6,0 3,3.5" fill="#111"/></svg>
  <svg class="abs" style="left:151px;top:8px" width="7" height="4"><polygon points="0,4 6,4 3,0.5" fill="#111"/></svg>
  <div class="abs" style="left:76px;top:1px;width:64px;height:20px;line-height:21px;text-align:right;font-size:12px;color:#222">1.00</div>
  <div class="abs" style="left:23.5px;top:44.5px;font-size:12px;font-weight:700;line-height:12px;">106</div>
  <div class="abs" style="left:47.5px;top:26.1px;font-size:34px;line-height:34px;transform:scaleX(.92);transform-origin:0 0">25</div>
  <div class="abs" style="left:87.3px;top:27.8px;font-size:11.6px;font-weight:700;line-height:12px;">1</div>
  <div class="abs" style="left:133.5px;top:44.5px;font-size:12px;font-weight:700;line-height:12px;">106</div>
  <div class="abs" style="left:158.5px;top:26.1px;font-size:34px;line-height:34px;transform:scaleX(.92);transform-origin:0 0">27</div>
  <div class="abs" style="left:198.3px;top:27.8px;font-size:11.6px;font-weight:700;line-height:12px;">4</div>
</div>
</body></html>
